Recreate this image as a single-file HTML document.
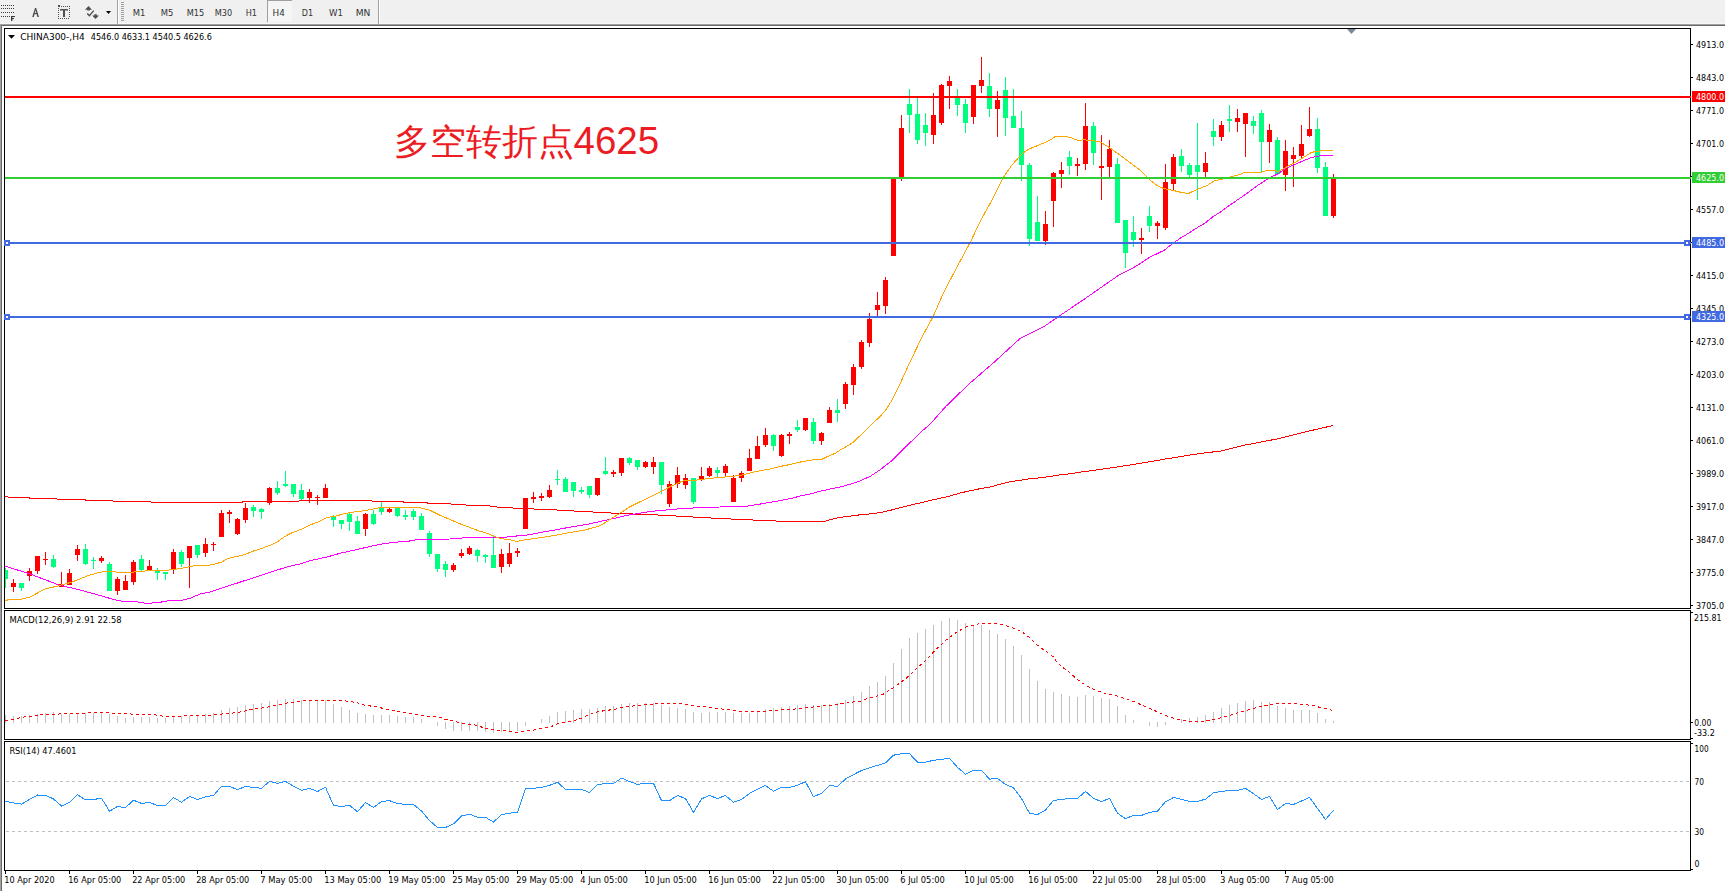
<!DOCTYPE html>
<html><head><meta charset="utf-8"><title>CHINA300 H4</title>
<style>
html,body{margin:0;padding:0;background:#fff;width:1725px;height:891px;overflow:hidden}
svg{display:block}
svg text{font-family:"DejaVu Sans", "Liberation Sans", sans-serif}
</style></head><body>
<svg width="1725" height="891" viewBox="0 0 1725 891">
<defs><clipPath id="cmain"><rect x="5" y="29" width="1685" height="579"/></clipPath>
<clipPath id="crsi"><rect x="5" y="742" width="1685" height="128"/></clipPath></defs>
<rect x="0" y="0" width="1725" height="891" fill="#ffffff"/><rect x="0" y="0" width="1725" height="23" fill="#f0f0f0"/><rect x="0" y="23" width="1725" height="1" fill="#f7f7f7"/><rect x="0" y="24" width="1725" height="1" fill="#a0a0a0"/><rect x="1" y="25" width="1724" height="1" fill="#696969"/><rect x="0" y="24" width="1" height="867" fill="#a0a0a0"/><rect x="1" y="25" width="1" height="866" fill="#696969"/><rect x="117" y="0" width="1" height="24" fill="#a0a0a0"/><rect x="118" y="0" width="1" height="24" fill="#ffffff"/><rect x="378" y="0" width="1" height="24" fill="#a0a0a0"/><rect x="379" y="0" width="1" height="24" fill="#ffffff"/><rect x="121" y="2" width="3" height="1" fill="#a0a0a0"/><rect x="121" y="4" width="3" height="1" fill="#a0a0a0"/><rect x="121" y="6" width="3" height="1" fill="#a0a0a0"/><rect x="121" y="8" width="3" height="1" fill="#a0a0a0"/><rect x="121" y="10" width="3" height="1" fill="#a0a0a0"/><rect x="121" y="12" width="3" height="1" fill="#a0a0a0"/><rect x="121" y="14" width="3" height="1" fill="#a0a0a0"/><rect x="121" y="16" width="3" height="1" fill="#a0a0a0"/><rect x="121" y="18" width="3" height="1" fill="#a0a0a0"/><rect x="121" y="20" width="3" height="1" fill="#a0a0a0"/><rect x="1" y="5" width="1" height="1" fill="#3c3c3c"/><rect x="3" y="5" width="1" height="1" fill="#3c3c3c"/><rect x="5" y="5" width="1" height="1" fill="#3c3c3c"/><rect x="7" y="5" width="1" height="1" fill="#3c3c3c"/><rect x="9" y="5" width="1" height="1" fill="#3c3c3c"/><rect x="11" y="5" width="1" height="1" fill="#3c3c3c"/><rect x="13" y="5" width="1" height="1" fill="#3c3c3c"/><rect x="1" y="8" width="1" height="1" fill="#3c3c3c"/><rect x="3" y="8" width="1" height="1" fill="#3c3c3c"/><rect x="5" y="8" width="1" height="1" fill="#3c3c3c"/><rect x="7" y="8" width="1" height="1" fill="#3c3c3c"/><rect x="9" y="8" width="1" height="1" fill="#3c3c3c"/><rect x="11" y="8" width="1" height="1" fill="#3c3c3c"/><rect x="13" y="8" width="1" height="1" fill="#3c3c3c"/><rect x="1" y="12" width="1" height="1" fill="#3c3c3c"/><rect x="3" y="12" width="1" height="1" fill="#3c3c3c"/><rect x="5" y="12" width="1" height="1" fill="#3c3c3c"/><rect x="7" y="12" width="1" height="1" fill="#3c3c3c"/><rect x="9" y="12" width="1" height="1" fill="#3c3c3c"/><rect x="11" y="12" width="1" height="1" fill="#3c3c3c"/><rect x="13" y="12" width="1" height="1" fill="#3c3c3c"/><rect x="1" y="16" width="1" height="1" fill="#3c3c3c"/><rect x="3" y="16" width="1" height="1" fill="#3c3c3c"/><rect x="5" y="16" width="1" height="1" fill="#3c3c3c"/><rect x="7" y="16" width="1" height="1" fill="#3c3c3c"/><rect x="9" y="16" width="1" height="1" fill="#3c3c3c"/><rect x="11" y="16" width="1" height="5" fill="#3c3c3c"/><rect x="12" y="16" width="0.4" height="5" fill="#3c3c3c"/><rect x="11" y="16" width="4" height="1" fill="#3c3c3c"/><rect x="11" y="18" width="3" height="1" fill="#3c3c3c"/><path d="M32.2 17 L35.0 8 L36.2 8 L39.0 17 L37.4 17 L35.6 10.2 L33.8 17 Z" fill="#505050"/><rect x="33.6" y="13" width="4" height="1.2" fill="#505050"/><rect x="61" y="6" width="1" height="1" fill="#505050"/><rect x="63" y="6" width="1" height="1" fill="#505050"/><rect x="65" y="6" width="1" height="1" fill="#505050"/><rect x="67" y="6" width="1" height="1" fill="#505050"/><rect x="69" y="6" width="1" height="1" fill="#505050"/><rect x="58" y="5" width="2" height="2" fill="#505050"/><rect x="58" y="8" width="1" height="1" fill="#505050"/><rect x="58" y="10" width="1" height="1" fill="#505050"/><rect x="58" y="12" width="1" height="1" fill="#505050"/><rect x="58" y="14" width="1" height="1" fill="#505050"/><rect x="58" y="16" width="1" height="1" fill="#505050"/><rect x="58" y="18" width="1" height="1" fill="#505050"/><rect x="69" y="6" width="1" height="1" fill="#505050"/><rect x="69" y="8" width="1" height="1" fill="#505050"/><rect x="69" y="10" width="1" height="1" fill="#505050"/><rect x="69" y="12" width="1" height="1" fill="#505050"/><rect x="69" y="14" width="1" height="1" fill="#505050"/><rect x="69" y="16" width="1" height="1" fill="#505050"/><rect x="60" y="18" width="1" height="1" fill="#505050"/><rect x="62" y="18" width="1" height="1" fill="#505050"/><rect x="64" y="18" width="1" height="1" fill="#505050"/><rect x="66" y="18" width="1" height="1" fill="#505050"/><rect x="68" y="18" width="1" height="1" fill="#505050"/><rect x="60" y="9" width="8" height="1.5" fill="#505050"/><rect x="63" y="10" width="2" height="7" fill="#505050"/><path d="M88.5 6 L85 9.7 L87.2 9.7 L87.2 10.6 L89.9 10.6 L89.9 9.7 L92 9.7 Z" fill="#505050"/><path d="M87.2 13.4 L89.4 15.6 L93.7 10.6" fill="none" stroke="#505050" stroke-width="1.4"/><path d="M94.3 14.2 L96.8 14.2 L96.8 15.5 L99 15.5 L95.5 19 L92.1 15.5 L94.3 15.5 Z" fill="#505050"/><path d="M106 11 L111 11 L108.5 14 Z" fill="#000"/><rect x="267" y="0" width="25" height="22" fill="#f5f5f5"/><rect x="267" y="0" width="25" height="1" fill="#a0a0a0"/><rect x="267" y="0" width="1" height="22" fill="#a0a0a0"/><text x="132.7" y="16" font-size="9.2" textLength="12.6" lengthAdjust="spacingAndGlyphs" fill="#333">M1</text><text x="160.7" y="16" font-size="9.2" textLength="12.6" lengthAdjust="spacingAndGlyphs" fill="#333">M5</text><text x="186.7" y="16" font-size="9.2" textLength="17.5" lengthAdjust="spacingAndGlyphs" fill="#333">M15</text><text x="214.7" y="16" font-size="9.2" textLength="17.5" lengthAdjust="spacingAndGlyphs" fill="#333">M30</text><text x="245.7" y="16" font-size="9.2" textLength="11.3" lengthAdjust="spacingAndGlyphs" fill="#333">H1</text><text x="272.6" y="16" font-size="9.2" textLength="12.2" lengthAdjust="spacingAndGlyphs" fill="#333">H4</text><text x="301.7" y="16" font-size="9.2" textLength="11.3" lengthAdjust="spacingAndGlyphs" fill="#333">D1</text><text x="329" y="16" font-size="9.2" textLength="14" lengthAdjust="spacingAndGlyphs" fill="#333">W1</text><text x="355.7" y="16" font-size="9.2" textLength="14.7" lengthAdjust="spacingAndGlyphs" fill="#333">MN</text><g shape-rendering="crispEdges"><rect x="5" y="568" width="1" height="20" fill="#00ff7f"/><rect x="5" y="570" width="3" height="9" fill="#00ff7f"/><rect x="13" y="579" width="1" height="13" fill="#ff0000"/><rect x="11" y="583" width="5" height="4" fill="#ff0000"/><rect x="21" y="583" width="1" height="8" fill="#00ff7f"/><rect x="19" y="583" width="5" height="5" fill="#00ff7f"/><rect x="29" y="568" width="1" height="13" fill="#ff0000"/><rect x="27" y="571" width="5" height="5" fill="#ff0000"/><rect x="37" y="556" width="1" height="18" fill="#ff0000"/><rect x="35" y="556" width="5" height="15" fill="#ff0000"/><rect x="45" y="552" width="1" height="13" fill="#ff0000"/><rect x="43" y="559" width="5" height="1" fill="#ff0000"/><rect x="53" y="555" width="1" height="13" fill="#00ff7f"/><rect x="51" y="559" width="5" height="8" fill="#00ff7f"/><rect x="61" y="572" width="1" height="15" fill="#ff0000"/><rect x="59" y="584" width="5" height="3" fill="#ff0000"/><rect x="69" y="569" width="1" height="16" fill="#ff0000"/><rect x="67" y="573" width="5" height="12" fill="#ff0000"/><rect x="77" y="545" width="1" height="16" fill="#ff0000"/><rect x="75" y="549" width="5" height="6" fill="#ff0000"/><rect x="85" y="544" width="1" height="21" fill="#00ff7f"/><rect x="83" y="549" width="5" height="15" fill="#00ff7f"/><rect x="93" y="557" width="1" height="12" fill="#00ff7f"/><rect x="91" y="560" width="5" height="1" fill="#00ff7f"/><rect x="101" y="556" width="1" height="7" fill="#ff0000"/><rect x="99" y="558" width="5" height="3" fill="#ff0000"/><rect x="109" y="562" width="1" height="29" fill="#00ff7f"/><rect x="107" y="564" width="5" height="27" fill="#00ff7f"/><rect x="117" y="577" width="1" height="18" fill="#ff0000"/><rect x="115" y="579" width="5" height="12" fill="#ff0000"/><rect x="125" y="575" width="1" height="15" fill="#ff0000"/><rect x="123" y="581" width="5" height="9" fill="#ff0000"/><rect x="133" y="560" width="1" height="25" fill="#ff0000"/><rect x="131" y="562" width="5" height="20" fill="#ff0000"/><rect x="141" y="555" width="1" height="17" fill="#00ff7f"/><rect x="139" y="559" width="5" height="11" fill="#00ff7f"/><rect x="149" y="560" width="1" height="10" fill="#ff0000"/><rect x="147" y="566" width="5" height="4" fill="#ff0000"/><rect x="157" y="568" width="1" height="12" fill="#00ff7f"/><rect x="155" y="571" width="5" height="2" fill="#00ff7f"/><rect x="165" y="572" width="1" height="8" fill="#00ff7f"/><rect x="163" y="572" width="5" height="2" fill="#00ff7f"/><rect x="173" y="549" width="1" height="25" fill="#ff0000"/><rect x="171" y="552" width="5" height="18" fill="#ff0000"/><rect x="181" y="550" width="1" height="17" fill="#00ff7f"/><rect x="179" y="552" width="5" height="12" fill="#00ff7f"/><rect x="189" y="546" width="1" height="42" fill="#ff0000"/><rect x="187" y="546" width="5" height="12" fill="#ff0000"/><rect x="197" y="545" width="1" height="13" fill="#00ff7f"/><rect x="195" y="545" width="5" height="10" fill="#00ff7f"/><rect x="205" y="538" width="1" height="19" fill="#ff0000"/><rect x="203" y="544" width="5" height="9" fill="#ff0000"/><rect x="213" y="542" width="1" height="9" fill="#ff0000"/><rect x="211" y="544" width="5" height="1" fill="#ff0000"/><rect x="221" y="510" width="1" height="27" fill="#ff0000"/><rect x="219" y="513" width="5" height="24" fill="#ff0000"/><rect x="229" y="510" width="1" height="13" fill="#ff0000"/><rect x="227" y="512" width="5" height="2" fill="#ff0000"/><rect x="237" y="518" width="1" height="17" fill="#ff0000"/><rect x="235" y="519" width="5" height="15" fill="#ff0000"/><rect x="245" y="503" width="1" height="20" fill="#ff0000"/><rect x="243" y="508" width="5" height="12" fill="#ff0000"/><rect x="253" y="505" width="1" height="12" fill="#00ff7f"/><rect x="251" y="507" width="5" height="4" fill="#00ff7f"/><rect x="261" y="508" width="1" height="11" fill="#00ff7f"/><rect x="259" y="509" width="5" height="3" fill="#00ff7f"/><rect x="269" y="487" width="1" height="18" fill="#ff0000"/><rect x="267" y="488" width="5" height="15" fill="#ff0000"/><rect x="277" y="481" width="1" height="14" fill="#00ff7f"/><rect x="275" y="488" width="5" height="5" fill="#00ff7f"/><rect x="285" y="471" width="1" height="16" fill="#00ff7f"/><rect x="283" y="484" width="5" height="2" fill="#00ff7f"/><rect x="293" y="484" width="1" height="13" fill="#00ff7f"/><rect x="291" y="484" width="5" height="10" fill="#00ff7f"/><rect x="301" y="484" width="1" height="16" fill="#00ff7f"/><rect x="299" y="490" width="5" height="9" fill="#00ff7f"/><rect x="309" y="489" width="1" height="14" fill="#ff0000"/><rect x="307" y="492" width="5" height="6" fill="#ff0000"/><rect x="317" y="495" width="1" height="10" fill="#ff0000"/><rect x="315" y="497" width="5" height="1" fill="#ff0000"/><rect x="325" y="484" width="1" height="14" fill="#ff0000"/><rect x="323" y="488" width="5" height="10" fill="#ff0000"/><rect x="333" y="515" width="1" height="12" fill="#00ff7f"/><rect x="331" y="516" width="5" height="4" fill="#00ff7f"/><rect x="341" y="520" width="1" height="9" fill="#00ff7f"/><rect x="339" y="520" width="5" height="4" fill="#00ff7f"/><rect x="349" y="513" width="1" height="18" fill="#00ff7f"/><rect x="347" y="514" width="5" height="8" fill="#00ff7f"/><rect x="357" y="516" width="1" height="18" fill="#00ff7f"/><rect x="355" y="521" width="5" height="13" fill="#00ff7f"/><rect x="365" y="513" width="1" height="23" fill="#ff0000"/><rect x="363" y="514" width="5" height="15" fill="#ff0000"/><rect x="373" y="510" width="1" height="15" fill="#00ff7f"/><rect x="371" y="514" width="5" height="10" fill="#00ff7f"/><rect x="381" y="502" width="1" height="13" fill="#00ff7f"/><rect x="379" y="508" width="5" height="4" fill="#00ff7f"/><rect x="389" y="508" width="1" height="5" fill="#ff0000"/><rect x="387" y="509" width="5" height="3" fill="#ff0000"/><rect x="397" y="508" width="1" height="9" fill="#00ff7f"/><rect x="395" y="508" width="5" height="8" fill="#00ff7f"/><rect x="405" y="510" width="1" height="10" fill="#00ff7f"/><rect x="403" y="515" width="5" height="2" fill="#00ff7f"/><rect x="413" y="509" width="1" height="11" fill="#00ff7f"/><rect x="411" y="511" width="5" height="6" fill="#00ff7f"/><rect x="421" y="513" width="1" height="17" fill="#00ff7f"/><rect x="419" y="516" width="5" height="14" fill="#00ff7f"/><rect x="429" y="531" width="1" height="26" fill="#00ff7f"/><rect x="427" y="533" width="5" height="21" fill="#00ff7f"/><rect x="437" y="554" width="1" height="18" fill="#00ff7f"/><rect x="435" y="554" width="5" height="15" fill="#00ff7f"/><rect x="445" y="561" width="1" height="16" fill="#00ff7f"/><rect x="443" y="564" width="5" height="6" fill="#00ff7f"/><rect x="453" y="563" width="1" height="9" fill="#ff0000"/><rect x="451" y="565" width="5" height="5" fill="#ff0000"/><rect x="461" y="549" width="1" height="9" fill="#ff0000"/><rect x="459" y="553" width="5" height="3" fill="#ff0000"/><rect x="469" y="546" width="1" height="9" fill="#ff0000"/><rect x="467" y="548" width="5" height="6" fill="#ff0000"/><rect x="477" y="549" width="1" height="13" fill="#00ff7f"/><rect x="475" y="550" width="5" height="6" fill="#00ff7f"/><rect x="485" y="554" width="1" height="9" fill="#00ff7f"/><rect x="483" y="555" width="5" height="2" fill="#00ff7f"/><rect x="493" y="535" width="1" height="33" fill="#00ff7f"/><rect x="491" y="555" width="5" height="13" fill="#00ff7f"/><rect x="501" y="549" width="1" height="24" fill="#ff0000"/><rect x="499" y="554" width="5" height="13" fill="#ff0000"/><rect x="509" y="543" width="1" height="24" fill="#ff0000"/><rect x="507" y="553" width="5" height="11" fill="#ff0000"/><rect x="517" y="548" width="1" height="9" fill="#ff0000"/><rect x="515" y="551" width="5" height="2" fill="#ff0000"/><rect x="525" y="498" width="1" height="31" fill="#ff0000"/><rect x="523" y="498" width="5" height="31" fill="#ff0000"/><rect x="533" y="492" width="1" height="11" fill="#ff0000"/><rect x="531" y="497" width="5" height="2" fill="#ff0000"/><rect x="541" y="493" width="1" height="8" fill="#ff0000"/><rect x="539" y="496" width="5" height="2" fill="#ff0000"/><rect x="549" y="485" width="1" height="13" fill="#ff0000"/><rect x="547" y="490" width="5" height="7" fill="#ff0000"/><rect x="557" y="470" width="1" height="15" fill="#00ff7f"/><rect x="555" y="479" width="5" height="1" fill="#00ff7f"/><rect x="565" y="477" width="1" height="15" fill="#00ff7f"/><rect x="563" y="479" width="5" height="13" fill="#00ff7f"/><rect x="573" y="482" width="1" height="15" fill="#00ff7f"/><rect x="571" y="482" width="5" height="9" fill="#00ff7f"/><rect x="581" y="487" width="1" height="7" fill="#00ff7f"/><rect x="579" y="490" width="5" height="2" fill="#00ff7f"/><rect x="589" y="486" width="1" height="12" fill="#00ff7f"/><rect x="587" y="486" width="5" height="9" fill="#00ff7f"/><rect x="597" y="478" width="1" height="18" fill="#ff0000"/><rect x="595" y="478" width="5" height="17" fill="#ff0000"/><rect x="605" y="457" width="1" height="18" fill="#00ff7f"/><rect x="603" y="471" width="5" height="3" fill="#00ff7f"/><rect x="613" y="470" width="1" height="7" fill="#ff0000"/><rect x="611" y="472" width="5" height="2" fill="#ff0000"/><rect x="621" y="458" width="1" height="18" fill="#ff0000"/><rect x="619" y="458" width="5" height="15" fill="#ff0000"/><rect x="629" y="457" width="1" height="8" fill="#00ff7f"/><rect x="627" y="458" width="5" height="5" fill="#00ff7f"/><rect x="637" y="460" width="1" height="10" fill="#00ff7f"/><rect x="635" y="460" width="5" height="7" fill="#00ff7f"/><rect x="645" y="461" width="1" height="7" fill="#ff0000"/><rect x="643" y="462" width="5" height="5" fill="#ff0000"/><rect x="653" y="457" width="1" height="17" fill="#ff0000"/><rect x="651" y="462" width="5" height="5" fill="#ff0000"/><rect x="661" y="462" width="1" height="32" fill="#00ff7f"/><rect x="659" y="462" width="5" height="23" fill="#00ff7f"/><rect x="669" y="481" width="1" height="26" fill="#ff0000"/><rect x="667" y="484" width="5" height="20" fill="#ff0000"/><rect x="677" y="467" width="1" height="21" fill="#ff0000"/><rect x="675" y="475" width="5" height="9" fill="#ff0000"/><rect x="685" y="474" width="1" height="15" fill="#ff0000"/><rect x="683" y="478" width="5" height="7" fill="#ff0000"/><rect x="693" y="478" width="1" height="26" fill="#00ff7f"/><rect x="691" y="478" width="5" height="24" fill="#00ff7f"/><rect x="701" y="467" width="1" height="14" fill="#ff0000"/><rect x="699" y="476" width="5" height="3" fill="#ff0000"/><rect x="709" y="466" width="1" height="11" fill="#ff0000"/><rect x="707" y="468" width="5" height="8" fill="#ff0000"/><rect x="717" y="467" width="1" height="11" fill="#00ff7f"/><rect x="715" y="470" width="5" height="3" fill="#00ff7f"/><rect x="725" y="464" width="1" height="12" fill="#ff0000"/><rect x="723" y="466" width="5" height="7" fill="#ff0000"/><rect x="733" y="475" width="1" height="27" fill="#ff0000"/><rect x="731" y="478" width="5" height="24" fill="#ff0000"/><rect x="741" y="471" width="1" height="11" fill="#ff0000"/><rect x="739" y="473" width="5" height="5" fill="#ff0000"/><rect x="749" y="449" width="1" height="22" fill="#ff0000"/><rect x="747" y="458" width="5" height="13" fill="#ff0000"/><rect x="757" y="436" width="1" height="23" fill="#ff0000"/><rect x="755" y="446" width="5" height="13" fill="#ff0000"/><rect x="765" y="428" width="1" height="19" fill="#ff0000"/><rect x="763" y="435" width="5" height="10" fill="#ff0000"/><rect x="773" y="434" width="1" height="17" fill="#00ff7f"/><rect x="771" y="435" width="5" height="11" fill="#00ff7f"/><rect x="781" y="434" width="1" height="23" fill="#ff0000"/><rect x="779" y="435" width="5" height="21" fill="#ff0000"/><rect x="789" y="432" width="1" height="12" fill="#ff0000"/><rect x="787" y="434" width="5" height="2" fill="#ff0000"/><rect x="797" y="420" width="1" height="12" fill="#00ff7f"/><rect x="795" y="427" width="5" height="3" fill="#00ff7f"/><rect x="805" y="418" width="1" height="13" fill="#ff0000"/><rect x="803" y="418" width="5" height="12" fill="#ff0000"/><rect x="813" y="418" width="1" height="26" fill="#00ff7f"/><rect x="811" y="422" width="5" height="19" fill="#00ff7f"/><rect x="821" y="432" width="1" height="13" fill="#ff0000"/><rect x="819" y="433" width="5" height="8" fill="#ff0000"/><rect x="829" y="407" width="1" height="16" fill="#ff0000"/><rect x="827" y="410" width="5" height="13" fill="#ff0000"/><rect x="837" y="399" width="1" height="23" fill="#00ff7f"/><rect x="835" y="410" width="5" height="3" fill="#00ff7f"/><rect x="845" y="382" width="1" height="27" fill="#ff0000"/><rect x="843" y="384" width="5" height="20" fill="#ff0000"/><rect x="853" y="364" width="1" height="31" fill="#ff0000"/><rect x="851" y="367" width="5" height="18" fill="#ff0000"/><rect x="861" y="340" width="1" height="29" fill="#ff0000"/><rect x="859" y="342" width="5" height="25" fill="#ff0000"/><rect x="869" y="313" width="1" height="34" fill="#ff0000"/><rect x="867" y="319" width="5" height="24" fill="#ff0000"/><rect x="877" y="292" width="1" height="24" fill="#ff0000"/><rect x="875" y="305" width="5" height="5" fill="#ff0000"/><rect x="885" y="277" width="1" height="37" fill="#ff0000"/><rect x="883" y="280" width="5" height="26" fill="#ff0000"/><rect x="893" y="179" width="1" height="77" fill="#ff0000"/><rect x="891" y="179" width="5" height="77" fill="#ff0000"/><rect x="901" y="115" width="1" height="66" fill="#ff0000"/><rect x="899" y="128" width="5" height="49" fill="#ff0000"/><rect x="909" y="89" width="1" height="44" fill="#00ff7f"/><rect x="907" y="104" width="5" height="11" fill="#00ff7f"/><rect x="917" y="98" width="1" height="46" fill="#00ff7f"/><rect x="915" y="114" width="5" height="26" fill="#00ff7f"/><rect x="925" y="113" width="1" height="33" fill="#00ff7f"/><rect x="923" y="125" width="5" height="8" fill="#00ff7f"/><rect x="933" y="93" width="1" height="51" fill="#ff0000"/><rect x="931" y="115" width="5" height="20" fill="#ff0000"/><rect x="941" y="84" width="1" height="41" fill="#ff0000"/><rect x="939" y="85" width="5" height="38" fill="#ff0000"/><rect x="949" y="76" width="1" height="33" fill="#ff0000"/><rect x="947" y="81" width="5" height="5" fill="#ff0000"/><rect x="957" y="89" width="1" height="27" fill="#00ff7f"/><rect x="955" y="98" width="5" height="7" fill="#00ff7f"/><rect x="965" y="99" width="1" height="34" fill="#00ff7f"/><rect x="963" y="104" width="5" height="19" fill="#00ff7f"/><rect x="973" y="85" width="1" height="39" fill="#ff0000"/><rect x="971" y="85" width="5" height="32" fill="#ff0000"/><rect x="981" y="57" width="1" height="36" fill="#ff0000"/><rect x="979" y="80" width="5" height="6" fill="#ff0000"/><rect x="989" y="73" width="1" height="44" fill="#00ff7f"/><rect x="987" y="86" width="5" height="23" fill="#00ff7f"/><rect x="997" y="91" width="1" height="46" fill="#ff0000"/><rect x="995" y="100" width="5" height="9" fill="#ff0000"/><rect x="1005" y="77" width="1" height="59" fill="#00ff7f"/><rect x="1003" y="90" width="5" height="28" fill="#00ff7f"/><rect x="1013" y="89" width="1" height="39" fill="#00ff7f"/><rect x="1011" y="116" width="5" height="12" fill="#00ff7f"/><rect x="1021" y="111" width="1" height="70" fill="#00ff7f"/><rect x="1019" y="128" width="5" height="37" fill="#00ff7f"/><rect x="1029" y="163" width="1" height="83" fill="#00ff7f"/><rect x="1027" y="165" width="5" height="74" fill="#00ff7f"/><rect x="1037" y="196" width="1" height="45" fill="#00ff7f"/><rect x="1035" y="222" width="5" height="19" fill="#00ff7f"/><rect x="1045" y="211" width="1" height="34" fill="#ff0000"/><rect x="1043" y="224" width="5" height="17" fill="#ff0000"/><rect x="1053" y="172" width="1" height="55" fill="#ff0000"/><rect x="1051" y="173" width="5" height="28" fill="#ff0000"/><rect x="1061" y="162" width="1" height="26" fill="#ff0000"/><rect x="1059" y="170" width="5" height="4" fill="#ff0000"/><rect x="1069" y="151" width="1" height="24" fill="#00ff7f"/><rect x="1067" y="157" width="5" height="9" fill="#00ff7f"/><rect x="1077" y="158" width="1" height="18" fill="#ff0000"/><rect x="1075" y="164" width="5" height="2" fill="#ff0000"/><rect x="1085" y="103" width="1" height="67" fill="#ff0000"/><rect x="1083" y="126" width="5" height="38" fill="#ff0000"/><rect x="1093" y="122" width="1" height="43" fill="#00ff7f"/><rect x="1091" y="126" width="5" height="27" fill="#00ff7f"/><rect x="1101" y="135" width="1" height="65" fill="#ff0000"/><rect x="1099" y="166" width="5" height="2" fill="#ff0000"/><rect x="1109" y="140" width="1" height="37" fill="#ff0000"/><rect x="1107" y="149" width="5" height="18" fill="#ff0000"/><rect x="1117" y="158" width="1" height="65" fill="#00ff7f"/><rect x="1115" y="164" width="5" height="59" fill="#00ff7f"/><rect x="1125" y="220" width="1" height="48" fill="#00ff7f"/><rect x="1123" y="220" width="5" height="33" fill="#00ff7f"/><rect x="1133" y="216" width="1" height="31" fill="#00ff7f"/><rect x="1131" y="232" width="5" height="8" fill="#00ff7f"/><rect x="1141" y="228" width="1" height="26" fill="#ff0000"/><rect x="1139" y="238" width="5" height="2" fill="#ff0000"/><rect x="1149" y="206" width="1" height="26" fill="#00ff7f"/><rect x="1147" y="216" width="5" height="10" fill="#00ff7f"/><rect x="1157" y="221" width="1" height="18" fill="#ff0000"/><rect x="1155" y="223" width="5" height="3" fill="#ff0000"/><rect x="1165" y="164" width="1" height="66" fill="#ff0000"/><rect x="1163" y="182" width="5" height="46" fill="#ff0000"/><rect x="1173" y="154" width="1" height="36" fill="#ff0000"/><rect x="1171" y="157" width="5" height="27" fill="#ff0000"/><rect x="1181" y="149" width="1" height="23" fill="#00ff7f"/><rect x="1179" y="156" width="5" height="10" fill="#00ff7f"/><rect x="1189" y="163" width="1" height="14" fill="#00ff7f"/><rect x="1187" y="165" width="5" height="10" fill="#00ff7f"/><rect x="1197" y="123" width="1" height="77" fill="#00ff7f"/><rect x="1195" y="165" width="5" height="7" fill="#00ff7f"/><rect x="1205" y="152" width="1" height="25" fill="#ff0000"/><rect x="1203" y="163" width="5" height="9" fill="#ff0000"/><rect x="1213" y="119" width="1" height="27" fill="#00ff7f"/><rect x="1211" y="131" width="5" height="6" fill="#00ff7f"/><rect x="1221" y="121" width="1" height="20" fill="#ff0000"/><rect x="1219" y="125" width="5" height="12" fill="#ff0000"/><rect x="1229" y="105" width="1" height="27" fill="#00ff7f"/><rect x="1227" y="119" width="5" height="2" fill="#00ff7f"/><rect x="1237" y="109" width="1" height="23" fill="#ff0000"/><rect x="1235" y="118" width="5" height="4" fill="#ff0000"/><rect x="1245" y="113" width="1" height="44" fill="#ff0000"/><rect x="1243" y="113" width="5" height="11" fill="#ff0000"/><rect x="1253" y="116" width="1" height="18" fill="#00ff7f"/><rect x="1251" y="121" width="5" height="5" fill="#00ff7f"/><rect x="1261" y="110" width="1" height="62" fill="#00ff7f"/><rect x="1259" y="113" width="5" height="29" fill="#00ff7f"/><rect x="1269" y="124" width="1" height="39" fill="#ff0000"/><rect x="1267" y="130" width="5" height="12" fill="#ff0000"/><rect x="1277" y="137" width="1" height="37" fill="#00ff7f"/><rect x="1275" y="140" width="5" height="34" fill="#00ff7f"/><rect x="1285" y="140" width="1" height="51" fill="#ff0000"/><rect x="1283" y="151" width="5" height="24" fill="#ff0000"/><rect x="1293" y="147" width="1" height="40" fill="#ff0000"/><rect x="1291" y="155" width="5" height="4" fill="#ff0000"/><rect x="1301" y="125" width="1" height="33" fill="#ff0000"/><rect x="1299" y="144" width="5" height="12" fill="#ff0000"/><rect x="1309" y="107" width="1" height="30" fill="#ff0000"/><rect x="1307" y="129" width="5" height="7" fill="#ff0000"/><rect x="1317" y="118" width="1" height="55" fill="#00ff7f"/><rect x="1315" y="129" width="5" height="39" fill="#00ff7f"/><rect x="1325" y="162" width="1" height="54" fill="#00ff7f"/><rect x="1323" y="167" width="5" height="49" fill="#00ff7f"/><rect x="1333" y="174" width="1" height="44" fill="#ff0000"/><rect x="1331" y="179" width="5" height="37" fill="#ff0000"/></g><g clip-path="url(#cmain)"><polyline points="5.0,496.5 10.0,497.4 42.0,498.4 66.0,499.4 98.0,500.4 122.0,501.4 170.0,502.4 241.0,502.3 245.0,501.5 297.0,501.5 300.0,500.6 370.0,500.6 375.0,501.5 402.0,501.5 405.0,502.5 425.0,502.5 430.0,503.5 450.0,503.8 455.0,504.7 466.0,505.0 470.0,505.7 490.0,506.0 500.0,507.4 523.0,508.5 540.0,509.3 554.0,509.8 570.0,510.8 586.0,511.6 600.0,512.4 620.0,513.5 645.0,514.5 665.0,515.3 680.0,516.3 698.0,517.3 718.0,518.4 738.0,519.3 760.0,520.3 780.0,521.2 825.0,521.2 830.0,519.7 840.0,517.4 850.0,516.2 860.0,514.8 870.0,513.9 880.0,512.7 890.0,510.4 900.0,507.8 910.0,505.2 920.0,503.0 930.0,500.5 940.0,498.3 950.0,496.0 960.0,493.0 970.0,490.8 980.0,488.7 990.0,487.0 1000.0,484.3 1010.0,481.7 1020.0,480.3 1030.0,478.6 1040.0,477.9 1050.0,476.5 1060.0,474.8 1070.0,473.8 1080.0,472.2 1102.0,469.2 1134.0,464.4 1166.0,458.9 1198.0,453.8 1221.5,450.9 1245.4,445.0 1277.3,438.9 1309.2,431.0 1333.0,425.5" fill="none" stroke="#ff0000" stroke-width="1" shape-rendering="crispEdges"/><polyline points="5.0,566.0 30.0,574.0 59.0,585.0 80.0,590.0 100.0,595.5 113.0,599.3 122.0,601.3 137.0,601.8 146.0,603.3 152.0,603.0 160.0,602.3 168.0,600.8 182.0,600.3 190.0,598.3 200.0,594.0 209.0,592.2 236.0,583.5 263.0,574.6 275.0,570.6 290.0,566.2 300.0,564.0 310.0,560.7 327.0,557.0 340.0,553.3 355.0,550.0 370.0,546.5 385.0,543.4 400.0,541.8 409.0,541.1 417.0,539.6 450.0,539.0 465.0,537.8 480.0,537.5 505.0,537.5 510.0,536.3 521.0,535.8 530.0,534.6 540.0,532.5 550.0,530.9 560.0,529.0 570.0,527.2 580.0,525.6 590.0,523.8 600.0,521.5 610.0,519.3 620.0,517.0 630.0,514.7 640.0,513.2 650.0,511.5 660.0,510.5 670.0,509.7 680.0,508.7 690.0,508.2 700.0,507.5 720.0,507.0 745.0,506.5 750.0,505.7 760.0,504.1 770.0,502.3 780.0,500.6 790.0,498.7 800.0,496.1 810.0,494.0 820.0,491.3 830.0,489.0 840.0,487.0 850.0,484.3 860.0,480.9 870.0,476.5 880.0,469.8 890.3,462.0 900.0,452.5 910.0,442.7 921.7,431.3 930.0,424.3 945.3,407.0 969.4,383.6 993.5,362.8 1019.7,338.8 1043.8,326.7 1061.3,314.7 1089.7,295.4 1113.8,278.6 1120.0,274.4 1130.0,269.7 1140.0,263.7 1150.0,257.1 1164.1,250.3 1173.2,243.2 1180.3,238.2 1188.4,233.4 1196.5,228.1 1205.1,223.0 1212.6,217.0 1220.7,211.9 1228.8,205.9 1236.9,200.3 1244.5,195.1 1249.0,191.9 1258.0,185.2 1266.9,179.4 1272.3,176.5 1278.6,173.5 1284.9,168.6 1293.9,165.0 1302.8,161.0 1311.8,157.4 1320.8,155.6 1333.0,155.6" fill="none" stroke="#ff00ff" stroke-width="1" shape-rendering="crispEdges"/><polyline points="5.0,601.0 10.0,599.0 22.0,599.0 30.0,597.0 45.0,589.0 59.0,585.7 72.0,582.0 90.0,575.0 100.0,572.3 105.0,571.5 122.0,572.3 129.0,572.3 143.0,571.5 148.0,570.3 168.0,570.2 177.0,569.0 186.0,567.5 193.0,566.0 200.0,565.2 209.0,565.2 216.0,563.8 222.0,561.9 228.0,558.5 240.0,555.7 246.0,554.1 252.0,551.4 259.0,549.6 265.0,547.1 272.0,544.6 278.0,541.3 285.0,536.4 292.0,532.7 300.0,529.8 310.0,525.0 320.0,521.2 327.0,517.5 335.0,516.2 343.0,514.1 350.0,512.5 360.0,511.3 370.0,509.7 378.0,508.0 390.0,507.3 417.0,507.4 423.0,508.4 430.0,510.2 440.0,515.2 450.0,519.5 460.0,523.8 470.0,527.5 480.0,531.3 484.0,532.3 490.0,534.5 495.0,536.5 500.0,538.3 507.0,539.5 513.0,540.3 517.0,541.5 522.0,540.3 528.0,539.4 536.0,538.3 545.0,537.0 555.0,535.4 565.0,533.3 575.0,531.7 585.0,530.0 595.0,527.2 600.0,525.6 605.0,522.8 610.0,519.5 620.0,513.2 630.0,506.7 640.0,501.8 650.0,497.1 660.0,492.0 670.0,486.7 680.0,482.2 685.0,480.4 695.0,480.4 700.0,479.6 710.0,478.4 720.0,477.3 730.0,476.7 740.0,475.4 750.0,473.0 760.0,470.7 770.0,469.0 780.0,466.5 790.0,464.5 800.0,462.1 810.0,460.3 817.0,459.4 822.0,459.3 826.0,457.2 830.0,455.5 836.0,452.9 840.0,450.2 852.6,442.8 865.9,430.2 880.8,415.6 886.3,409.3 891.1,401.5 898.1,388.1 909.1,363.8 917.0,347.5 921.0,338.8 933.1,316.6 944.2,291.3 955.4,270.1 970.5,241.8 980.6,220.6 990.7,202.4 1002.8,178.2 1011.9,165.0 1017.0,159.5 1020.0,155.9 1025.0,151.5 1030.0,148.6 1040.0,144.6 1050.0,140.2 1055.0,136.7 1065.0,136.4 1070.0,137.3 1075.0,139.3 1078.0,140.6 1083.0,139.9 1090.0,140.2 1100.0,141.9 1110.0,147.9 1120.0,155.2 1130.0,162.7 1140.0,170.2 1150.0,180.1 1158.1,186.2 1164.1,188.7 1172.2,190.2 1180.3,192.2 1188.4,193.5 1196.5,189.7 1206.6,185.7 1214.6,180.6 1222.7,179.1 1231.8,176.6 1240.0,174.4 1244.5,172.2 1261.5,172.2 1266.9,170.4 1273.2,170.4 1277.7,171.5 1281.3,170.0 1287.6,166.4 1293.9,163.2 1302.8,157.8 1311.8,152.3 1320.8,150.8 1333.0,150.5" fill="none" stroke="#ffa500" stroke-width="1" shape-rendering="crispEdges"/></g><rect x="4" y="28" width="1687" height="1" fill="#000"/><rect x="4" y="608" width="1687" height="1" fill="#000"/><rect x="4" y="28" width="1" height="581" fill="#000"/><rect x="1690" y="28" width="1" height="581" fill="#000"/><rect x="4" y="610" width="1687" height="1" fill="#000"/><rect x="4" y="739" width="1687" height="1" fill="#000"/><rect x="4" y="610" width="1" height="130" fill="#000"/><rect x="1690" y="610" width="1" height="130" fill="#000"/><rect x="4" y="741" width="1687" height="1" fill="#000"/><rect x="4" y="870" width="1687" height="1" fill="#000"/><rect x="4" y="741" width="1" height="130" fill="#000"/><rect x="1690" y="741" width="1" height="130" fill="#000"/><path d="M1347 29 L1356 29 L1351.5 34 Z" fill="#778899"/><path d="M8 35 L15 35 L11.5 38.8 Z" fill="#000"/><text x="20.3" y="40" font-size="9.2" fill="#000" textLength="64.4" lengthAdjust="spacingAndGlyphs">CHINA300-,H4</text><text x="90.8" y="40" font-size="9.2" fill="#000" textLength="121" lengthAdjust="spacingAndGlyphs">4546.0 4633.1 4540.5 4626.6</text><rect x="1691" y="44" width="2" height="1" fill="#000"/><text x="1696" y="48" font-size="9.2" fill="#000" textLength="28" lengthAdjust="spacingAndGlyphs">4913.0</text><rect x="1691" y="77" width="2" height="1" fill="#000"/><text x="1696" y="81" font-size="9.2" fill="#000" textLength="28" lengthAdjust="spacingAndGlyphs">4843.0</text><rect x="1691" y="110" width="2" height="1" fill="#000"/><text x="1696" y="114" font-size="9.2" fill="#000" textLength="28" lengthAdjust="spacingAndGlyphs">4771.0</text><rect x="1691" y="143" width="2" height="1" fill="#000"/><text x="1696" y="147" font-size="9.2" fill="#000" textLength="28" lengthAdjust="spacingAndGlyphs">4701.0</text><rect x="1691" y="176" width="2" height="1" fill="#000"/><rect x="1691" y="209" width="2" height="1" fill="#000"/><text x="1696" y="213" font-size="9.2" fill="#000" textLength="28" lengthAdjust="spacingAndGlyphs">4557.0</text><rect x="1691" y="242" width="2" height="1" fill="#000"/><rect x="1691" y="275" width="2" height="1" fill="#000"/><text x="1696" y="279" font-size="9.2" fill="#000" textLength="28" lengthAdjust="spacingAndGlyphs">4415.0</text><rect x="1691" y="308" width="2" height="1" fill="#000"/><text x="1696" y="312" font-size="9.2" fill="#000" textLength="28" lengthAdjust="spacingAndGlyphs">4345.0</text><rect x="1691" y="341" width="2" height="1" fill="#000"/><text x="1696" y="345" font-size="9.2" fill="#000" textLength="28" lengthAdjust="spacingAndGlyphs">4273.0</text><rect x="1691" y="374" width="2" height="1" fill="#000"/><text x="1696" y="378" font-size="9.2" fill="#000" textLength="28" lengthAdjust="spacingAndGlyphs">4203.0</text><rect x="1691" y="407" width="2" height="1" fill="#000"/><text x="1696" y="411" font-size="9.2" fill="#000" textLength="28" lengthAdjust="spacingAndGlyphs">4131.0</text><rect x="1691" y="440" width="2" height="1" fill="#000"/><text x="1696" y="444" font-size="9.2" fill="#000" textLength="28" lengthAdjust="spacingAndGlyphs">4061.0</text><rect x="1691" y="473" width="2" height="1" fill="#000"/><text x="1696" y="477" font-size="9.2" fill="#000" textLength="28" lengthAdjust="spacingAndGlyphs">3989.0</text><rect x="1691" y="506" width="2" height="1" fill="#000"/><text x="1696" y="510" font-size="9.2" fill="#000" textLength="28" lengthAdjust="spacingAndGlyphs">3917.0</text><rect x="1691" y="539" width="2" height="1" fill="#000"/><text x="1696" y="543" font-size="9.2" fill="#000" textLength="28" lengthAdjust="spacingAndGlyphs">3847.0</text><rect x="1691" y="572" width="2" height="1" fill="#000"/><text x="1696" y="576" font-size="9.2" fill="#000" textLength="28" lengthAdjust="spacingAndGlyphs">3775.0</text><rect x="1691" y="605" width="2" height="1" fill="#000"/><text x="1696" y="609" font-size="9.2" fill="#000" textLength="28" lengthAdjust="spacingAndGlyphs">3705.0</text><rect x="1692" y="91" width="33" height="11" fill="#ff0000"/><text x="1696" y="100" font-size="9.2" fill="#fff" textLength="28" lengthAdjust="spacingAndGlyphs">4800.0</text><rect x="1692" y="172" width="33" height="11" fill="#32cd32"/><text x="1696" y="181" font-size="9.2" fill="#fff" textLength="28" lengthAdjust="spacingAndGlyphs">4625.0</text><rect x="1692" y="237" width="33" height="11" fill="#4169e1"/><text x="1696" y="246" font-size="9.2" fill="#fff" textLength="28" lengthAdjust="spacingAndGlyphs">4485.0</text><rect x="1692" y="311" width="33" height="11" fill="#4169e1"/><text x="1696" y="320" font-size="9.2" fill="#fff" textLength="28" lengthAdjust="spacingAndGlyphs">4325.0</text><rect x="5" y="96" width="1686" height="2" fill="#ff0000"/><rect x="5" y="177" width="1686" height="2" fill="#32cd32"/><rect x="5" y="242" width="1686" height="2" fill="#4169e1"/><rect x="4" y="240" width="6" height="6" fill="#4169e1"/><rect x="6" y="242" width="2" height="2" fill="#ffffff"/><rect x="1684" y="240" width="6" height="6" fill="#4169e1"/><rect x="1686" y="242" width="2" height="2" fill="#ffffff"/><rect x="5" y="316" width="1686" height="2" fill="#4169e1"/><rect x="4" y="314" width="6" height="6" fill="#4169e1"/><rect x="6" y="316" width="2" height="2" fill="#ffffff"/><rect x="1684" y="314" width="6" height="6" fill="#4169e1"/><rect x="1686" y="316" width="2" height="2" fill="#ffffff"/><g shape-rendering="crispEdges"><rect x="5" y="715" width="1" height="8" fill="#c0c0c0"/><rect x="13" y="716" width="1" height="7" fill="#c0c0c0"/><rect x="21" y="716" width="1" height="7" fill="#c0c0c0"/><rect x="29" y="715" width="1" height="8" fill="#c0c0c0"/><rect x="37" y="714" width="1" height="9" fill="#c0c0c0"/><rect x="45" y="713" width="1" height="10" fill="#c0c0c0"/><rect x="53" y="712" width="1" height="11" fill="#c0c0c0"/><rect x="61" y="714" width="1" height="9" fill="#c0c0c0"/><rect x="69" y="714" width="1" height="9" fill="#c0c0c0"/><rect x="77" y="713" width="1" height="10" fill="#c0c0c0"/><rect x="85" y="713" width="1" height="10" fill="#c0c0c0"/><rect x="93" y="713" width="1" height="10" fill="#c0c0c0"/><rect x="101" y="713" width="1" height="10" fill="#c0c0c0"/><rect x="109" y="714" width="1" height="9" fill="#c0c0c0"/><rect x="117" y="716" width="1" height="7" fill="#c0c0c0"/><rect x="125" y="718" width="1" height="5" fill="#c0c0c0"/><rect x="133" y="717" width="1" height="6" fill="#c0c0c0"/><rect x="141" y="717" width="1" height="6" fill="#c0c0c0"/><rect x="149" y="717" width="1" height="6" fill="#c0c0c0"/><rect x="157" y="718" width="1" height="5" fill="#c0c0c0"/><rect x="165" y="718" width="1" height="5" fill="#c0c0c0"/><rect x="173" y="716" width="1" height="7" fill="#c0c0c0"/><rect x="181" y="716" width="1" height="7" fill="#c0c0c0"/><rect x="189" y="716" width="1" height="7" fill="#c0c0c0"/><rect x="197" y="715" width="1" height="8" fill="#c0c0c0"/><rect x="205" y="714" width="1" height="9" fill="#c0c0c0"/><rect x="213" y="713" width="1" height="10" fill="#c0c0c0"/><rect x="221" y="710" width="1" height="13" fill="#c0c0c0"/><rect x="229" y="708" width="1" height="15" fill="#c0c0c0"/><rect x="237" y="707" width="1" height="16" fill="#c0c0c0"/><rect x="245" y="705" width="1" height="18" fill="#c0c0c0"/><rect x="253" y="704" width="1" height="19" fill="#c0c0c0"/><rect x="261" y="703" width="1" height="20" fill="#c0c0c0"/><rect x="269" y="701" width="1" height="22" fill="#c0c0c0"/><rect x="277" y="700" width="1" height="23" fill="#c0c0c0"/><rect x="285" y="699" width="1" height="24" fill="#c0c0c0"/><rect x="293" y="699" width="1" height="24" fill="#c0c0c0"/><rect x="301" y="700" width="1" height="23" fill="#c0c0c0"/><rect x="309" y="700" width="1" height="23" fill="#c0c0c0"/><rect x="317" y="700" width="1" height="23" fill="#c0c0c0"/><rect x="325" y="700" width="1" height="23" fill="#c0c0c0"/><rect x="333" y="704" width="1" height="19" fill="#c0c0c0"/><rect x="341" y="707" width="1" height="16" fill="#c0c0c0"/><rect x="349" y="710" width="1" height="13" fill="#c0c0c0"/><rect x="357" y="713" width="1" height="10" fill="#c0c0c0"/><rect x="365" y="714" width="1" height="9" fill="#c0c0c0"/><rect x="373" y="715" width="1" height="8" fill="#c0c0c0"/><rect x="381" y="715" width="1" height="8" fill="#c0c0c0"/><rect x="389" y="715" width="1" height="8" fill="#c0c0c0"/><rect x="397" y="716" width="1" height="7" fill="#c0c0c0"/><rect x="405" y="717" width="1" height="6" fill="#c0c0c0"/><rect x="413" y="717" width="1" height="6" fill="#c0c0c0"/><rect x="421" y="719" width="1" height="4" fill="#c0c0c0"/><rect x="437" y="722" width="1" height="4" fill="#c0c0c0"/><rect x="445" y="722" width="1" height="7" fill="#c0c0c0"/><rect x="453" y="722" width="1" height="9" fill="#c0c0c0"/><rect x="461" y="722" width="1" height="9" fill="#c0c0c0"/><rect x="469" y="722" width="1" height="9" fill="#c0c0c0"/><rect x="477" y="722" width="1" height="9" fill="#c0c0c0"/><rect x="485" y="722" width="1" height="10" fill="#c0c0c0"/><rect x="493" y="722" width="1" height="11" fill="#c0c0c0"/><rect x="501" y="722" width="1" height="10" fill="#c0c0c0"/><rect x="509" y="722" width="1" height="9" fill="#c0c0c0"/><rect x="517" y="722" width="1" height="9" fill="#c0c0c0"/><rect x="525" y="722" width="1" height="4" fill="#c0c0c0"/><rect x="541" y="719" width="1" height="4" fill="#c0c0c0"/><rect x="549" y="716" width="1" height="7" fill="#c0c0c0"/><rect x="557" y="712" width="1" height="11" fill="#c0c0c0"/><rect x="565" y="711" width="1" height="12" fill="#c0c0c0"/><rect x="573" y="710" width="1" height="13" fill="#c0c0c0"/><rect x="581" y="709" width="1" height="14" fill="#c0c0c0"/><rect x="589" y="709" width="1" height="14" fill="#c0c0c0"/><rect x="597" y="708" width="1" height="15" fill="#c0c0c0"/><rect x="605" y="706" width="1" height="17" fill="#c0c0c0"/><rect x="613" y="706" width="1" height="17" fill="#c0c0c0"/><rect x="621" y="704" width="1" height="19" fill="#c0c0c0"/><rect x="629" y="703" width="1" height="20" fill="#c0c0c0"/><rect x="637" y="703" width="1" height="20" fill="#c0c0c0"/><rect x="645" y="703" width="1" height="20" fill="#c0c0c0"/><rect x="653" y="703" width="1" height="20" fill="#c0c0c0"/><rect x="661" y="705" width="1" height="18" fill="#c0c0c0"/><rect x="669" y="707" width="1" height="16" fill="#c0c0c0"/><rect x="677" y="708" width="1" height="15" fill="#c0c0c0"/><rect x="685" y="709" width="1" height="14" fill="#c0c0c0"/><rect x="693" y="712" width="1" height="11" fill="#c0c0c0"/><rect x="701" y="713" width="1" height="10" fill="#c0c0c0"/><rect x="709" y="712" width="1" height="11" fill="#c0c0c0"/><rect x="717" y="712" width="1" height="11" fill="#c0c0c0"/><rect x="725" y="712" width="1" height="11" fill="#c0c0c0"/><rect x="733" y="713" width="1" height="10" fill="#c0c0c0"/><rect x="741" y="713" width="1" height="10" fill="#c0c0c0"/><rect x="749" y="713" width="1" height="10" fill="#c0c0c0"/><rect x="757" y="712" width="1" height="11" fill="#c0c0c0"/><rect x="765" y="709" width="1" height="14" fill="#c0c0c0"/><rect x="773" y="708" width="1" height="15" fill="#c0c0c0"/><rect x="781" y="707" width="1" height="16" fill="#c0c0c0"/><rect x="789" y="706" width="1" height="17" fill="#c0c0c0"/><rect x="797" y="705" width="1" height="18" fill="#c0c0c0"/><rect x="805" y="704" width="1" height="19" fill="#c0c0c0"/><rect x="813" y="705" width="1" height="18" fill="#c0c0c0"/><rect x="821" y="705" width="1" height="18" fill="#c0c0c0"/><rect x="829" y="704" width="1" height="19" fill="#c0c0c0"/><rect x="837" y="703" width="1" height="20" fill="#c0c0c0"/><rect x="845" y="700" width="1" height="23" fill="#c0c0c0"/><rect x="853" y="696" width="1" height="27" fill="#c0c0c0"/><rect x="861" y="692" width="1" height="31" fill="#c0c0c0"/><rect x="869" y="686" width="1" height="37" fill="#c0c0c0"/><rect x="877" y="682" width="1" height="41" fill="#c0c0c0"/><rect x="885" y="676" width="1" height="47" fill="#c0c0c0"/><rect x="893" y="663" width="1" height="60" fill="#c0c0c0"/><rect x="901" y="649" width="1" height="74" fill="#c0c0c0"/><rect x="909" y="638" width="1" height="85" fill="#c0c0c0"/><rect x="917" y="633" width="1" height="90" fill="#c0c0c0"/><rect x="925" y="629" width="1" height="94" fill="#c0c0c0"/><rect x="933" y="625" width="1" height="98" fill="#c0c0c0"/><rect x="941" y="621" width="1" height="102" fill="#c0c0c0"/><rect x="949" y="618" width="1" height="105" fill="#c0c0c0"/><rect x="957" y="620" width="1" height="103" fill="#c0c0c0"/><rect x="965" y="623" width="1" height="100" fill="#c0c0c0"/><rect x="973" y="625" width="1" height="98" fill="#c0c0c0"/><rect x="981" y="625" width="1" height="98" fill="#c0c0c0"/><rect x="989" y="630" width="1" height="93" fill="#c0c0c0"/><rect x="997" y="634" width="1" height="89" fill="#c0c0c0"/><rect x="1005" y="639" width="1" height="84" fill="#c0c0c0"/><rect x="1013" y="646" width="1" height="77" fill="#c0c0c0"/><rect x="1021" y="655" width="1" height="68" fill="#c0c0c0"/><rect x="1029" y="669" width="1" height="54" fill="#c0c0c0"/><rect x="1037" y="681" width="1" height="42" fill="#c0c0c0"/><rect x="1045" y="689" width="1" height="34" fill="#c0c0c0"/><rect x="1053" y="692" width="1" height="31" fill="#c0c0c0"/><rect x="1061" y="694" width="1" height="29" fill="#c0c0c0"/><rect x="1069" y="696" width="1" height="27" fill="#c0c0c0"/><rect x="1077" y="697" width="1" height="26" fill="#c0c0c0"/><rect x="1085" y="695" width="1" height="28" fill="#c0c0c0"/><rect x="1093" y="696" width="1" height="27" fill="#c0c0c0"/><rect x="1101" y="698" width="1" height="25" fill="#c0c0c0"/><rect x="1109" y="699" width="1" height="24" fill="#c0c0c0"/><rect x="1117" y="706" width="1" height="17" fill="#c0c0c0"/><rect x="1125" y="715" width="1" height="8" fill="#c0c0c0"/><rect x="1133" y="720" width="1" height="3" fill="#c0c0c0"/><rect x="1149" y="722" width="1" height="4" fill="#c0c0c0"/><rect x="1157" y="722" width="1" height="5" fill="#c0c0c0"/><rect x="1165" y="722" width="1" height="3" fill="#c0c0c0"/><rect x="1181" y="719" width="1" height="4" fill="#c0c0c0"/><rect x="1189" y="718" width="1" height="5" fill="#c0c0c0"/><rect x="1197" y="717" width="1" height="6" fill="#c0c0c0"/><rect x="1205" y="715" width="1" height="8" fill="#c0c0c0"/><rect x="1213" y="712" width="1" height="11" fill="#c0c0c0"/><rect x="1221" y="708" width="1" height="15" fill="#c0c0c0"/><rect x="1229" y="705" width="1" height="18" fill="#c0c0c0"/><rect x="1237" y="703" width="1" height="20" fill="#c0c0c0"/><rect x="1245" y="701" width="1" height="22" fill="#c0c0c0"/><rect x="1253" y="700" width="1" height="23" fill="#c0c0c0"/><rect x="1261" y="702" width="1" height="21" fill="#c0c0c0"/><rect x="1269" y="702" width="1" height="21" fill="#c0c0c0"/><rect x="1277" y="706" width="1" height="17" fill="#c0c0c0"/><rect x="1285" y="708" width="1" height="15" fill="#c0c0c0"/><rect x="1293" y="710" width="1" height="13" fill="#c0c0c0"/><rect x="1301" y="710" width="1" height="13" fill="#c0c0c0"/><rect x="1309" y="710" width="1" height="13" fill="#c0c0c0"/><rect x="1317" y="713" width="1" height="10" fill="#c0c0c0"/><rect x="1325" y="719" width="1" height="4" fill="#c0c0c0"/><rect x="1333" y="721" width="1" height="2" fill="#c0c0c0"/></g><polyline points="5.0,720.6 13.0,719.5 18.0,718.3 24.0,717.0 30.0,716.4 36.0,715.5 43.0,714.4 55.0,714.4 66.0,713.4 84.0,713.4 90.0,712.5 108.0,712.5 115.0,713.4 127.0,713.4 133.0,714.4 152.0,714.4 160.0,715.5 164.0,716.4 210.0,715.5 217.0,714.4 230.0,713.4 240.0,712.1 247.0,710.6 252.0,709.3 260.0,708.3 268.0,707.0 277.0,705.3 283.0,704.0 288.0,702.7 295.0,702.3 303.0,701.0 310.0,700.4 340.0,700.4 350.0,701.4 357.0,702.7 363.0,704.9 380.0,707.4 385.0,709.3 398.0,711.3 410.0,713.4 420.0,715.3 427.0,716.4 440.0,717.2 445.0,719.3 452.0,720.6 458.0,722.3 468.0,724.0 477.0,725.3 482.0,727.2 490.0,729.1 500.0,730.4 510.0,731.3 517.0,732.3 525.0,731.3 532.0,730.4 540.0,728.5 550.0,727.2 557.0,724.0 565.0,722.3 575.0,720.2 583.0,717.6 590.0,714.2 597.0,711.9 605.0,710.6 615.0,709.3 622.0,707.4 630.0,706.3 640.0,705.3 650.0,704.5 660.0,703.3 675.0,703.3 685.0,704.2 690.0,705.3 700.0,706.5 710.0,707.4 715.0,708.3 725.0,709.3 735.0,710.4 740.0,711.3 760.0,711.3 775.0,710.6 785.0,709.6 800.0,708.7 810.0,707.4 820.0,706.1 830.0,705.3 838.0,704.2 845.0,703.5 850.0,702.3 860.0,701.3 866.0,699.1 875.0,696.5 883.0,694.3 893.0,688.1 900.0,683.0 906.0,678.5 915.0,670.1 925.0,661.0 935.0,650.5 945.0,641.0 955.0,633.3 965.0,627.2 972.0,625.5 980.0,623.6 1000.0,623.9 1008.0,626.2 1015.0,628.8 1022.0,632.0 1030.0,637.8 1037.0,644.9 1045.0,650.7 1053.0,656.5 1056.0,661.0 1062.0,666.9 1068.0,671.1 1074.0,676.6 1080.0,681.4 1086.0,685.6 1092.0,688.6 1098.0,691.2 1105.0,693.2 1111.0,694.5 1117.0,696.0 1123.0,697.9 1129.0,700.1 1135.0,701.8 1141.0,704.7 1147.0,707.2 1153.0,709.8 1159.0,712.6 1165.0,715.2 1171.0,717.4 1177.0,719.2 1183.0,720.5 1190.0,721.3 1205.0,721.3 1213.0,719.6 1220.0,718.0 1227.0,716.4 1234.0,713.9 1242.0,711.6 1250.0,709.4 1257.0,707.5 1264.0,706.0 1271.0,704.4 1275.0,703.4 1297.0,703.4 1302.0,704.5 1313.0,705.5 1320.0,707.4 1326.0,708.5 1333.0,710.5" fill="none" stroke="#ff0000" stroke-width="1" shape-rendering="crispEdges" stroke-dasharray="3 3"/><text x="9.6" y="623" font-size="9.2" fill="#000" textLength="112" lengthAdjust="spacingAndGlyphs">MACD(12,26,9) 2.91 22.58</text><rect x="1691" y="612" width="2" height="1" fill="#000"/><rect x="1691" y="722" width="2" height="1" fill="#000"/><rect x="1691" y="738" width="2" height="1" fill="#000"/><text x="1694" y="621" font-size="9.2" fill="#000" textLength="27.5" lengthAdjust="spacingAndGlyphs">215.81</text><text x="1694.3" y="726" font-size="9.2" fill="#000" textLength="17" lengthAdjust="spacingAndGlyphs">0.00</text><text x="1694" y="736" font-size="9.2" fill="#000" textLength="20.8" lengthAdjust="spacingAndGlyphs">-33.2</text><g shape-rendering="crispEdges"><rect x="6" y="781" width="3" height="1" fill="#c0c0c0"/><rect x="12" y="781" width="3" height="1" fill="#c0c0c0"/><rect x="18" y="781" width="3" height="1" fill="#c0c0c0"/><rect x="24" y="781" width="3" height="1" fill="#c0c0c0"/><rect x="30" y="781" width="3" height="1" fill="#c0c0c0"/><rect x="36" y="781" width="3" height="1" fill="#c0c0c0"/><rect x="42" y="781" width="3" height="1" fill="#c0c0c0"/><rect x="48" y="781" width="3" height="1" fill="#c0c0c0"/><rect x="54" y="781" width="3" height="1" fill="#c0c0c0"/><rect x="60" y="781" width="3" height="1" fill="#c0c0c0"/><rect x="66" y="781" width="3" height="1" fill="#c0c0c0"/><rect x="72" y="781" width="3" height="1" fill="#c0c0c0"/><rect x="78" y="781" width="3" height="1" fill="#c0c0c0"/><rect x="84" y="781" width="3" height="1" fill="#c0c0c0"/><rect x="90" y="781" width="3" height="1" fill="#c0c0c0"/><rect x="96" y="781" width="3" height="1" fill="#c0c0c0"/><rect x="102" y="781" width="3" height="1" fill="#c0c0c0"/><rect x="108" y="781" width="3" height="1" fill="#c0c0c0"/><rect x="114" y="781" width="3" height="1" fill="#c0c0c0"/><rect x="120" y="781" width="3" height="1" fill="#c0c0c0"/><rect x="126" y="781" width="3" height="1" fill="#c0c0c0"/><rect x="132" y="781" width="3" height="1" fill="#c0c0c0"/><rect x="138" y="781" width="3" height="1" fill="#c0c0c0"/><rect x="144" y="781" width="3" height="1" fill="#c0c0c0"/><rect x="150" y="781" width="3" height="1" fill="#c0c0c0"/><rect x="156" y="781" width="3" height="1" fill="#c0c0c0"/><rect x="162" y="781" width="3" height="1" fill="#c0c0c0"/><rect x="168" y="781" width="3" height="1" fill="#c0c0c0"/><rect x="174" y="781" width="3" height="1" fill="#c0c0c0"/><rect x="180" y="781" width="3" height="1" fill="#c0c0c0"/><rect x="186" y="781" width="3" height="1" fill="#c0c0c0"/><rect x="192" y="781" width="3" height="1" fill="#c0c0c0"/><rect x="198" y="781" width="3" height="1" fill="#c0c0c0"/><rect x="204" y="781" width="3" height="1" fill="#c0c0c0"/><rect x="210" y="781" width="3" height="1" fill="#c0c0c0"/><rect x="216" y="781" width="3" height="1" fill="#c0c0c0"/><rect x="222" y="781" width="3" height="1" fill="#c0c0c0"/><rect x="228" y="781" width="3" height="1" fill="#c0c0c0"/><rect x="234" y="781" width="3" height="1" fill="#c0c0c0"/><rect x="240" y="781" width="3" height="1" fill="#c0c0c0"/><rect x="246" y="781" width="3" height="1" fill="#c0c0c0"/><rect x="252" y="781" width="3" height="1" fill="#c0c0c0"/><rect x="258" y="781" width="3" height="1" fill="#c0c0c0"/><rect x="264" y="781" width="3" height="1" fill="#c0c0c0"/><rect x="270" y="781" width="3" height="1" fill="#c0c0c0"/><rect x="276" y="781" width="3" height="1" fill="#c0c0c0"/><rect x="282" y="781" width="3" height="1" fill="#c0c0c0"/><rect x="288" y="781" width="3" height="1" fill="#c0c0c0"/><rect x="294" y="781" width="3" height="1" fill="#c0c0c0"/><rect x="300" y="781" width="3" height="1" fill="#c0c0c0"/><rect x="306" y="781" width="3" height="1" fill="#c0c0c0"/><rect x="312" y="781" width="3" height="1" fill="#c0c0c0"/><rect x="318" y="781" width="3" height="1" fill="#c0c0c0"/><rect x="324" y="781" width="3" height="1" fill="#c0c0c0"/><rect x="330" y="781" width="3" height="1" fill="#c0c0c0"/><rect x="336" y="781" width="3" height="1" fill="#c0c0c0"/><rect x="342" y="781" width="3" height="1" fill="#c0c0c0"/><rect x="348" y="781" width="3" height="1" fill="#c0c0c0"/><rect x="354" y="781" width="3" height="1" fill="#c0c0c0"/><rect x="360" y="781" width="3" height="1" fill="#c0c0c0"/><rect x="366" y="781" width="3" height="1" fill="#c0c0c0"/><rect x="372" y="781" width="3" height="1" fill="#c0c0c0"/><rect x="378" y="781" width="3" height="1" fill="#c0c0c0"/><rect x="384" y="781" width="3" height="1" fill="#c0c0c0"/><rect x="390" y="781" width="3" height="1" fill="#c0c0c0"/><rect x="396" y="781" width="3" height="1" fill="#c0c0c0"/><rect x="402" y="781" width="3" height="1" fill="#c0c0c0"/><rect x="408" y="781" width="3" height="1" fill="#c0c0c0"/><rect x="414" y="781" width="3" height="1" fill="#c0c0c0"/><rect x="420" y="781" width="3" height="1" fill="#c0c0c0"/><rect x="426" y="781" width="3" height="1" fill="#c0c0c0"/><rect x="432" y="781" width="3" height="1" fill="#c0c0c0"/><rect x="438" y="781" width="3" height="1" fill="#c0c0c0"/><rect x="444" y="781" width="3" height="1" fill="#c0c0c0"/><rect x="450" y="781" width="3" height="1" fill="#c0c0c0"/><rect x="456" y="781" width="3" height="1" fill="#c0c0c0"/><rect x="462" y="781" width="3" height="1" fill="#c0c0c0"/><rect x="468" y="781" width="3" height="1" fill="#c0c0c0"/><rect x="474" y="781" width="3" height="1" fill="#c0c0c0"/><rect x="480" y="781" width="3" height="1" fill="#c0c0c0"/><rect x="486" y="781" width="3" height="1" fill="#c0c0c0"/><rect x="492" y="781" width="3" height="1" fill="#c0c0c0"/><rect x="498" y="781" width="3" height="1" fill="#c0c0c0"/><rect x="504" y="781" width="3" height="1" fill="#c0c0c0"/><rect x="510" y="781" width="3" height="1" fill="#c0c0c0"/><rect x="516" y="781" width="3" height="1" fill="#c0c0c0"/><rect x="522" y="781" width="3" height="1" fill="#c0c0c0"/><rect x="528" y="781" width="3" height="1" fill="#c0c0c0"/><rect x="534" y="781" width="3" height="1" fill="#c0c0c0"/><rect x="540" y="781" width="3" height="1" fill="#c0c0c0"/><rect x="546" y="781" width="3" height="1" fill="#c0c0c0"/><rect x="552" y="781" width="3" height="1" fill="#c0c0c0"/><rect x="558" y="781" width="3" height="1" fill="#c0c0c0"/><rect x="564" y="781" width="3" height="1" fill="#c0c0c0"/><rect x="570" y="781" width="3" height="1" fill="#c0c0c0"/><rect x="576" y="781" width="3" height="1" fill="#c0c0c0"/><rect x="582" y="781" width="3" height="1" fill="#c0c0c0"/><rect x="588" y="781" width="3" height="1" fill="#c0c0c0"/><rect x="594" y="781" width="3" height="1" fill="#c0c0c0"/><rect x="600" y="781" width="3" height="1" fill="#c0c0c0"/><rect x="606" y="781" width="3" height="1" fill="#c0c0c0"/><rect x="612" y="781" width="3" height="1" fill="#c0c0c0"/><rect x="618" y="781" width="3" height="1" fill="#c0c0c0"/><rect x="624" y="781" width="3" height="1" fill="#c0c0c0"/><rect x="630" y="781" width="3" height="1" fill="#c0c0c0"/><rect x="636" y="781" width="3" height="1" fill="#c0c0c0"/><rect x="642" y="781" width="3" height="1" fill="#c0c0c0"/><rect x="648" y="781" width="3" height="1" fill="#c0c0c0"/><rect x="654" y="781" width="3" height="1" fill="#c0c0c0"/><rect x="660" y="781" width="3" height="1" fill="#c0c0c0"/><rect x="666" y="781" width="3" height="1" fill="#c0c0c0"/><rect x="672" y="781" width="3" height="1" fill="#c0c0c0"/><rect x="678" y="781" width="3" height="1" fill="#c0c0c0"/><rect x="684" y="781" width="3" height="1" fill="#c0c0c0"/><rect x="690" y="781" width="3" height="1" fill="#c0c0c0"/><rect x="696" y="781" width="3" height="1" fill="#c0c0c0"/><rect x="702" y="781" width="3" height="1" fill="#c0c0c0"/><rect x="708" y="781" width="3" height="1" fill="#c0c0c0"/><rect x="714" y="781" width="3" height="1" fill="#c0c0c0"/><rect x="720" y="781" width="3" height="1" fill="#c0c0c0"/><rect x="726" y="781" width="3" height="1" fill="#c0c0c0"/><rect x="732" y="781" width="3" height="1" fill="#c0c0c0"/><rect x="738" y="781" width="3" height="1" fill="#c0c0c0"/><rect x="744" y="781" width="3" height="1" fill="#c0c0c0"/><rect x="750" y="781" width="3" height="1" fill="#c0c0c0"/><rect x="756" y="781" width="3" height="1" fill="#c0c0c0"/><rect x="762" y="781" width="3" height="1" fill="#c0c0c0"/><rect x="768" y="781" width="3" height="1" fill="#c0c0c0"/><rect x="774" y="781" width="3" height="1" fill="#c0c0c0"/><rect x="780" y="781" width="3" height="1" fill="#c0c0c0"/><rect x="786" y="781" width="3" height="1" fill="#c0c0c0"/><rect x="792" y="781" width="3" height="1" fill="#c0c0c0"/><rect x="798" y="781" width="3" height="1" fill="#c0c0c0"/><rect x="804" y="781" width="3" height="1" fill="#c0c0c0"/><rect x="810" y="781" width="3" height="1" fill="#c0c0c0"/><rect x="816" y="781" width="3" height="1" fill="#c0c0c0"/><rect x="822" y="781" width="3" height="1" fill="#c0c0c0"/><rect x="828" y="781" width="3" height="1" fill="#c0c0c0"/><rect x="834" y="781" width="3" height="1" fill="#c0c0c0"/><rect x="840" y="781" width="3" height="1" fill="#c0c0c0"/><rect x="846" y="781" width="3" height="1" fill="#c0c0c0"/><rect x="852" y="781" width="3" height="1" fill="#c0c0c0"/><rect x="858" y="781" width="3" height="1" fill="#c0c0c0"/><rect x="864" y="781" width="3" height="1" fill="#c0c0c0"/><rect x="870" y="781" width="3" height="1" fill="#c0c0c0"/><rect x="876" y="781" width="3" height="1" fill="#c0c0c0"/><rect x="882" y="781" width="3" height="1" fill="#c0c0c0"/><rect x="888" y="781" width="3" height="1" fill="#c0c0c0"/><rect x="894" y="781" width="3" height="1" fill="#c0c0c0"/><rect x="900" y="781" width="3" height="1" fill="#c0c0c0"/><rect x="906" y="781" width="3" height="1" fill="#c0c0c0"/><rect x="912" y="781" width="3" height="1" fill="#c0c0c0"/><rect x="918" y="781" width="3" height="1" fill="#c0c0c0"/><rect x="924" y="781" width="3" height="1" fill="#c0c0c0"/><rect x="930" y="781" width="3" height="1" fill="#c0c0c0"/><rect x="936" y="781" width="3" height="1" fill="#c0c0c0"/><rect x="942" y="781" width="3" height="1" fill="#c0c0c0"/><rect x="948" y="781" width="3" height="1" fill="#c0c0c0"/><rect x="954" y="781" width="3" height="1" fill="#c0c0c0"/><rect x="960" y="781" width="3" height="1" fill="#c0c0c0"/><rect x="966" y="781" width="3" height="1" fill="#c0c0c0"/><rect x="972" y="781" width="3" height="1" fill="#c0c0c0"/><rect x="978" y="781" width="3" height="1" fill="#c0c0c0"/><rect x="984" y="781" width="3" height="1" fill="#c0c0c0"/><rect x="990" y="781" width="3" height="1" fill="#c0c0c0"/><rect x="996" y="781" width="3" height="1" fill="#c0c0c0"/><rect x="1002" y="781" width="3" height="1" fill="#c0c0c0"/><rect x="1008" y="781" width="3" height="1" fill="#c0c0c0"/><rect x="1014" y="781" width="3" height="1" fill="#c0c0c0"/><rect x="1020" y="781" width="3" height="1" fill="#c0c0c0"/><rect x="1026" y="781" width="3" height="1" fill="#c0c0c0"/><rect x="1032" y="781" width="3" height="1" fill="#c0c0c0"/><rect x="1038" y="781" width="3" height="1" fill="#c0c0c0"/><rect x="1044" y="781" width="3" height="1" fill="#c0c0c0"/><rect x="1050" y="781" width="3" height="1" fill="#c0c0c0"/><rect x="1056" y="781" width="3" height="1" fill="#c0c0c0"/><rect x="1062" y="781" width="3" height="1" fill="#c0c0c0"/><rect x="1068" y="781" width="3" height="1" fill="#c0c0c0"/><rect x="1074" y="781" width="3" height="1" fill="#c0c0c0"/><rect x="1080" y="781" width="3" height="1" fill="#c0c0c0"/><rect x="1086" y="781" width="3" height="1" fill="#c0c0c0"/><rect x="1092" y="781" width="3" height="1" fill="#c0c0c0"/><rect x="1098" y="781" width="3" height="1" fill="#c0c0c0"/><rect x="1104" y="781" width="3" height="1" fill="#c0c0c0"/><rect x="1110" y="781" width="3" height="1" fill="#c0c0c0"/><rect x="1116" y="781" width="3" height="1" fill="#c0c0c0"/><rect x="1122" y="781" width="3" height="1" fill="#c0c0c0"/><rect x="1128" y="781" width="3" height="1" fill="#c0c0c0"/><rect x="1134" y="781" width="3" height="1" fill="#c0c0c0"/><rect x="1140" y="781" width="3" height="1" fill="#c0c0c0"/><rect x="1146" y="781" width="3" height="1" fill="#c0c0c0"/><rect x="1152" y="781" width="3" height="1" fill="#c0c0c0"/><rect x="1158" y="781" width="3" height="1" fill="#c0c0c0"/><rect x="1164" y="781" width="3" height="1" fill="#c0c0c0"/><rect x="1170" y="781" width="3" height="1" fill="#c0c0c0"/><rect x="1176" y="781" width="3" height="1" fill="#c0c0c0"/><rect x="1182" y="781" width="3" height="1" fill="#c0c0c0"/><rect x="1188" y="781" width="3" height="1" fill="#c0c0c0"/><rect x="1194" y="781" width="3" height="1" fill="#c0c0c0"/><rect x="1200" y="781" width="3" height="1" fill="#c0c0c0"/><rect x="1206" y="781" width="3" height="1" fill="#c0c0c0"/><rect x="1212" y="781" width="3" height="1" fill="#c0c0c0"/><rect x="1218" y="781" width="3" height="1" fill="#c0c0c0"/><rect x="1224" y="781" width="3" height="1" fill="#c0c0c0"/><rect x="1230" y="781" width="3" height="1" fill="#c0c0c0"/><rect x="1236" y="781" width="3" height="1" fill="#c0c0c0"/><rect x="1242" y="781" width="3" height="1" fill="#c0c0c0"/><rect x="1248" y="781" width="3" height="1" fill="#c0c0c0"/><rect x="1254" y="781" width="3" height="1" fill="#c0c0c0"/><rect x="1260" y="781" width="3" height="1" fill="#c0c0c0"/><rect x="1266" y="781" width="3" height="1" fill="#c0c0c0"/><rect x="1272" y="781" width="3" height="1" fill="#c0c0c0"/><rect x="1278" y="781" width="3" height="1" fill="#c0c0c0"/><rect x="1284" y="781" width="3" height="1" fill="#c0c0c0"/><rect x="1290" y="781" width="3" height="1" fill="#c0c0c0"/><rect x="1296" y="781" width="3" height="1" fill="#c0c0c0"/><rect x="1302" y="781" width="3" height="1" fill="#c0c0c0"/><rect x="1308" y="781" width="3" height="1" fill="#c0c0c0"/><rect x="1314" y="781" width="3" height="1" fill="#c0c0c0"/><rect x="1320" y="781" width="3" height="1" fill="#c0c0c0"/><rect x="1326" y="781" width="3" height="1" fill="#c0c0c0"/><rect x="1332" y="781" width="3" height="1" fill="#c0c0c0"/><rect x="1338" y="781" width="3" height="1" fill="#c0c0c0"/><rect x="1344" y="781" width="3" height="1" fill="#c0c0c0"/><rect x="1350" y="781" width="3" height="1" fill="#c0c0c0"/><rect x="1356" y="781" width="3" height="1" fill="#c0c0c0"/><rect x="1362" y="781" width="3" height="1" fill="#c0c0c0"/><rect x="1368" y="781" width="3" height="1" fill="#c0c0c0"/><rect x="1374" y="781" width="3" height="1" fill="#c0c0c0"/><rect x="1380" y="781" width="3" height="1" fill="#c0c0c0"/><rect x="1386" y="781" width="3" height="1" fill="#c0c0c0"/><rect x="1392" y="781" width="3" height="1" fill="#c0c0c0"/><rect x="1398" y="781" width="3" height="1" fill="#c0c0c0"/><rect x="1404" y="781" width="3" height="1" fill="#c0c0c0"/><rect x="1410" y="781" width="3" height="1" fill="#c0c0c0"/><rect x="1416" y="781" width="3" height="1" fill="#c0c0c0"/><rect x="1422" y="781" width="3" height="1" fill="#c0c0c0"/><rect x="1428" y="781" width="3" height="1" fill="#c0c0c0"/><rect x="1434" y="781" width="3" height="1" fill="#c0c0c0"/><rect x="1440" y="781" width="3" height="1" fill="#c0c0c0"/><rect x="1446" y="781" width="3" height="1" fill="#c0c0c0"/><rect x="1452" y="781" width="3" height="1" fill="#c0c0c0"/><rect x="1458" y="781" width="3" height="1" fill="#c0c0c0"/><rect x="1464" y="781" width="3" height="1" fill="#c0c0c0"/><rect x="1470" y="781" width="3" height="1" fill="#c0c0c0"/><rect x="1476" y="781" width="3" height="1" fill="#c0c0c0"/><rect x="1482" y="781" width="3" height="1" fill="#c0c0c0"/><rect x="1488" y="781" width="3" height="1" fill="#c0c0c0"/><rect x="1494" y="781" width="3" height="1" fill="#c0c0c0"/><rect x="1500" y="781" width="3" height="1" fill="#c0c0c0"/><rect x="1506" y="781" width="3" height="1" fill="#c0c0c0"/><rect x="1512" y="781" width="3" height="1" fill="#c0c0c0"/><rect x="1518" y="781" width="3" height="1" fill="#c0c0c0"/><rect x="1524" y="781" width="3" height="1" fill="#c0c0c0"/><rect x="1530" y="781" width="3" height="1" fill="#c0c0c0"/><rect x="1536" y="781" width="3" height="1" fill="#c0c0c0"/><rect x="1542" y="781" width="3" height="1" fill="#c0c0c0"/><rect x="1548" y="781" width="3" height="1" fill="#c0c0c0"/><rect x="1554" y="781" width="3" height="1" fill="#c0c0c0"/><rect x="1560" y="781" width="3" height="1" fill="#c0c0c0"/><rect x="1566" y="781" width="3" height="1" fill="#c0c0c0"/><rect x="1572" y="781" width="3" height="1" fill="#c0c0c0"/><rect x="1578" y="781" width="3" height="1" fill="#c0c0c0"/><rect x="1584" y="781" width="3" height="1" fill="#c0c0c0"/><rect x="1590" y="781" width="3" height="1" fill="#c0c0c0"/><rect x="1596" y="781" width="3" height="1" fill="#c0c0c0"/><rect x="1602" y="781" width="3" height="1" fill="#c0c0c0"/><rect x="1608" y="781" width="3" height="1" fill="#c0c0c0"/><rect x="1614" y="781" width="3" height="1" fill="#c0c0c0"/><rect x="1620" y="781" width="3" height="1" fill="#c0c0c0"/><rect x="1626" y="781" width="3" height="1" fill="#c0c0c0"/><rect x="1632" y="781" width="3" height="1" fill="#c0c0c0"/><rect x="1638" y="781" width="3" height="1" fill="#c0c0c0"/><rect x="1644" y="781" width="3" height="1" fill="#c0c0c0"/><rect x="1650" y="781" width="3" height="1" fill="#c0c0c0"/><rect x="1656" y="781" width="3" height="1" fill="#c0c0c0"/><rect x="1662" y="781" width="3" height="1" fill="#c0c0c0"/><rect x="1668" y="781" width="3" height="1" fill="#c0c0c0"/><rect x="1674" y="781" width="3" height="1" fill="#c0c0c0"/><rect x="1680" y="781" width="3" height="1" fill="#c0c0c0"/><rect x="1686" y="781" width="3" height="1" fill="#c0c0c0"/><rect x="6" y="831" width="3" height="1" fill="#c0c0c0"/><rect x="12" y="831" width="3" height="1" fill="#c0c0c0"/><rect x="18" y="831" width="3" height="1" fill="#c0c0c0"/><rect x="24" y="831" width="3" height="1" fill="#c0c0c0"/><rect x="30" y="831" width="3" height="1" fill="#c0c0c0"/><rect x="36" y="831" width="3" height="1" fill="#c0c0c0"/><rect x="42" y="831" width="3" height="1" fill="#c0c0c0"/><rect x="48" y="831" width="3" height="1" fill="#c0c0c0"/><rect x="54" y="831" width="3" height="1" fill="#c0c0c0"/><rect x="60" y="831" width="3" height="1" fill="#c0c0c0"/><rect x="66" y="831" width="3" height="1" fill="#c0c0c0"/><rect x="72" y="831" width="3" height="1" fill="#c0c0c0"/><rect x="78" y="831" width="3" height="1" fill="#c0c0c0"/><rect x="84" y="831" width="3" height="1" fill="#c0c0c0"/><rect x="90" y="831" width="3" height="1" fill="#c0c0c0"/><rect x="96" y="831" width="3" height="1" fill="#c0c0c0"/><rect x="102" y="831" width="3" height="1" fill="#c0c0c0"/><rect x="108" y="831" width="3" height="1" fill="#c0c0c0"/><rect x="114" y="831" width="3" height="1" fill="#c0c0c0"/><rect x="120" y="831" width="3" height="1" fill="#c0c0c0"/><rect x="126" y="831" width="3" height="1" fill="#c0c0c0"/><rect x="132" y="831" width="3" height="1" fill="#c0c0c0"/><rect x="138" y="831" width="3" height="1" fill="#c0c0c0"/><rect x="144" y="831" width="3" height="1" fill="#c0c0c0"/><rect x="150" y="831" width="3" height="1" fill="#c0c0c0"/><rect x="156" y="831" width="3" height="1" fill="#c0c0c0"/><rect x="162" y="831" width="3" height="1" fill="#c0c0c0"/><rect x="168" y="831" width="3" height="1" fill="#c0c0c0"/><rect x="174" y="831" width="3" height="1" fill="#c0c0c0"/><rect x="180" y="831" width="3" height="1" fill="#c0c0c0"/><rect x="186" y="831" width="3" height="1" fill="#c0c0c0"/><rect x="192" y="831" width="3" height="1" fill="#c0c0c0"/><rect x="198" y="831" width="3" height="1" fill="#c0c0c0"/><rect x="204" y="831" width="3" height="1" fill="#c0c0c0"/><rect x="210" y="831" width="3" height="1" fill="#c0c0c0"/><rect x="216" y="831" width="3" height="1" fill="#c0c0c0"/><rect x="222" y="831" width="3" height="1" fill="#c0c0c0"/><rect x="228" y="831" width="3" height="1" fill="#c0c0c0"/><rect x="234" y="831" width="3" height="1" fill="#c0c0c0"/><rect x="240" y="831" width="3" height="1" fill="#c0c0c0"/><rect x="246" y="831" width="3" height="1" fill="#c0c0c0"/><rect x="252" y="831" width="3" height="1" fill="#c0c0c0"/><rect x="258" y="831" width="3" height="1" fill="#c0c0c0"/><rect x="264" y="831" width="3" height="1" fill="#c0c0c0"/><rect x="270" y="831" width="3" height="1" fill="#c0c0c0"/><rect x="276" y="831" width="3" height="1" fill="#c0c0c0"/><rect x="282" y="831" width="3" height="1" fill="#c0c0c0"/><rect x="288" y="831" width="3" height="1" fill="#c0c0c0"/><rect x="294" y="831" width="3" height="1" fill="#c0c0c0"/><rect x="300" y="831" width="3" height="1" fill="#c0c0c0"/><rect x="306" y="831" width="3" height="1" fill="#c0c0c0"/><rect x="312" y="831" width="3" height="1" fill="#c0c0c0"/><rect x="318" y="831" width="3" height="1" fill="#c0c0c0"/><rect x="324" y="831" width="3" height="1" fill="#c0c0c0"/><rect x="330" y="831" width="3" height="1" fill="#c0c0c0"/><rect x="336" y="831" width="3" height="1" fill="#c0c0c0"/><rect x="342" y="831" width="3" height="1" fill="#c0c0c0"/><rect x="348" y="831" width="3" height="1" fill="#c0c0c0"/><rect x="354" y="831" width="3" height="1" fill="#c0c0c0"/><rect x="360" y="831" width="3" height="1" fill="#c0c0c0"/><rect x="366" y="831" width="3" height="1" fill="#c0c0c0"/><rect x="372" y="831" width="3" height="1" fill="#c0c0c0"/><rect x="378" y="831" width="3" height="1" fill="#c0c0c0"/><rect x="384" y="831" width="3" height="1" fill="#c0c0c0"/><rect x="390" y="831" width="3" height="1" fill="#c0c0c0"/><rect x="396" y="831" width="3" height="1" fill="#c0c0c0"/><rect x="402" y="831" width="3" height="1" fill="#c0c0c0"/><rect x="408" y="831" width="3" height="1" fill="#c0c0c0"/><rect x="414" y="831" width="3" height="1" fill="#c0c0c0"/><rect x="420" y="831" width="3" height="1" fill="#c0c0c0"/><rect x="426" y="831" width="3" height="1" fill="#c0c0c0"/><rect x="432" y="831" width="3" height="1" fill="#c0c0c0"/><rect x="438" y="831" width="3" height="1" fill="#c0c0c0"/><rect x="444" y="831" width="3" height="1" fill="#c0c0c0"/><rect x="450" y="831" width="3" height="1" fill="#c0c0c0"/><rect x="456" y="831" width="3" height="1" fill="#c0c0c0"/><rect x="462" y="831" width="3" height="1" fill="#c0c0c0"/><rect x="468" y="831" width="3" height="1" fill="#c0c0c0"/><rect x="474" y="831" width="3" height="1" fill="#c0c0c0"/><rect x="480" y="831" width="3" height="1" fill="#c0c0c0"/><rect x="486" y="831" width="3" height="1" fill="#c0c0c0"/><rect x="492" y="831" width="3" height="1" fill="#c0c0c0"/><rect x="498" y="831" width="3" height="1" fill="#c0c0c0"/><rect x="504" y="831" width="3" height="1" fill="#c0c0c0"/><rect x="510" y="831" width="3" height="1" fill="#c0c0c0"/><rect x="516" y="831" width="3" height="1" fill="#c0c0c0"/><rect x="522" y="831" width="3" height="1" fill="#c0c0c0"/><rect x="528" y="831" width="3" height="1" fill="#c0c0c0"/><rect x="534" y="831" width="3" height="1" fill="#c0c0c0"/><rect x="540" y="831" width="3" height="1" fill="#c0c0c0"/><rect x="546" y="831" width="3" height="1" fill="#c0c0c0"/><rect x="552" y="831" width="3" height="1" fill="#c0c0c0"/><rect x="558" y="831" width="3" height="1" fill="#c0c0c0"/><rect x="564" y="831" width="3" height="1" fill="#c0c0c0"/><rect x="570" y="831" width="3" height="1" fill="#c0c0c0"/><rect x="576" y="831" width="3" height="1" fill="#c0c0c0"/><rect x="582" y="831" width="3" height="1" fill="#c0c0c0"/><rect x="588" y="831" width="3" height="1" fill="#c0c0c0"/><rect x="594" y="831" width="3" height="1" fill="#c0c0c0"/><rect x="600" y="831" width="3" height="1" fill="#c0c0c0"/><rect x="606" y="831" width="3" height="1" fill="#c0c0c0"/><rect x="612" y="831" width="3" height="1" fill="#c0c0c0"/><rect x="618" y="831" width="3" height="1" fill="#c0c0c0"/><rect x="624" y="831" width="3" height="1" fill="#c0c0c0"/><rect x="630" y="831" width="3" height="1" fill="#c0c0c0"/><rect x="636" y="831" width="3" height="1" fill="#c0c0c0"/><rect x="642" y="831" width="3" height="1" fill="#c0c0c0"/><rect x="648" y="831" width="3" height="1" fill="#c0c0c0"/><rect x="654" y="831" width="3" height="1" fill="#c0c0c0"/><rect x="660" y="831" width="3" height="1" fill="#c0c0c0"/><rect x="666" y="831" width="3" height="1" fill="#c0c0c0"/><rect x="672" y="831" width="3" height="1" fill="#c0c0c0"/><rect x="678" y="831" width="3" height="1" fill="#c0c0c0"/><rect x="684" y="831" width="3" height="1" fill="#c0c0c0"/><rect x="690" y="831" width="3" height="1" fill="#c0c0c0"/><rect x="696" y="831" width="3" height="1" fill="#c0c0c0"/><rect x="702" y="831" width="3" height="1" fill="#c0c0c0"/><rect x="708" y="831" width="3" height="1" fill="#c0c0c0"/><rect x="714" y="831" width="3" height="1" fill="#c0c0c0"/><rect x="720" y="831" width="3" height="1" fill="#c0c0c0"/><rect x="726" y="831" width="3" height="1" fill="#c0c0c0"/><rect x="732" y="831" width="3" height="1" fill="#c0c0c0"/><rect x="738" y="831" width="3" height="1" fill="#c0c0c0"/><rect x="744" y="831" width="3" height="1" fill="#c0c0c0"/><rect x="750" y="831" width="3" height="1" fill="#c0c0c0"/><rect x="756" y="831" width="3" height="1" fill="#c0c0c0"/><rect x="762" y="831" width="3" height="1" fill="#c0c0c0"/><rect x="768" y="831" width="3" height="1" fill="#c0c0c0"/><rect x="774" y="831" width="3" height="1" fill="#c0c0c0"/><rect x="780" y="831" width="3" height="1" fill="#c0c0c0"/><rect x="786" y="831" width="3" height="1" fill="#c0c0c0"/><rect x="792" y="831" width="3" height="1" fill="#c0c0c0"/><rect x="798" y="831" width="3" height="1" fill="#c0c0c0"/><rect x="804" y="831" width="3" height="1" fill="#c0c0c0"/><rect x="810" y="831" width="3" height="1" fill="#c0c0c0"/><rect x="816" y="831" width="3" height="1" fill="#c0c0c0"/><rect x="822" y="831" width="3" height="1" fill="#c0c0c0"/><rect x="828" y="831" width="3" height="1" fill="#c0c0c0"/><rect x="834" y="831" width="3" height="1" fill="#c0c0c0"/><rect x="840" y="831" width="3" height="1" fill="#c0c0c0"/><rect x="846" y="831" width="3" height="1" fill="#c0c0c0"/><rect x="852" y="831" width="3" height="1" fill="#c0c0c0"/><rect x="858" y="831" width="3" height="1" fill="#c0c0c0"/><rect x="864" y="831" width="3" height="1" fill="#c0c0c0"/><rect x="870" y="831" width="3" height="1" fill="#c0c0c0"/><rect x="876" y="831" width="3" height="1" fill="#c0c0c0"/><rect x="882" y="831" width="3" height="1" fill="#c0c0c0"/><rect x="888" y="831" width="3" height="1" fill="#c0c0c0"/><rect x="894" y="831" width="3" height="1" fill="#c0c0c0"/><rect x="900" y="831" width="3" height="1" fill="#c0c0c0"/><rect x="906" y="831" width="3" height="1" fill="#c0c0c0"/><rect x="912" y="831" width="3" height="1" fill="#c0c0c0"/><rect x="918" y="831" width="3" height="1" fill="#c0c0c0"/><rect x="924" y="831" width="3" height="1" fill="#c0c0c0"/><rect x="930" y="831" width="3" height="1" fill="#c0c0c0"/><rect x="936" y="831" width="3" height="1" fill="#c0c0c0"/><rect x="942" y="831" width="3" height="1" fill="#c0c0c0"/><rect x="948" y="831" width="3" height="1" fill="#c0c0c0"/><rect x="954" y="831" width="3" height="1" fill="#c0c0c0"/><rect x="960" y="831" width="3" height="1" fill="#c0c0c0"/><rect x="966" y="831" width="3" height="1" fill="#c0c0c0"/><rect x="972" y="831" width="3" height="1" fill="#c0c0c0"/><rect x="978" y="831" width="3" height="1" fill="#c0c0c0"/><rect x="984" y="831" width="3" height="1" fill="#c0c0c0"/><rect x="990" y="831" width="3" height="1" fill="#c0c0c0"/><rect x="996" y="831" width="3" height="1" fill="#c0c0c0"/><rect x="1002" y="831" width="3" height="1" fill="#c0c0c0"/><rect x="1008" y="831" width="3" height="1" fill="#c0c0c0"/><rect x="1014" y="831" width="3" height="1" fill="#c0c0c0"/><rect x="1020" y="831" width="3" height="1" fill="#c0c0c0"/><rect x="1026" y="831" width="3" height="1" fill="#c0c0c0"/><rect x="1032" y="831" width="3" height="1" fill="#c0c0c0"/><rect x="1038" y="831" width="3" height="1" fill="#c0c0c0"/><rect x="1044" y="831" width="3" height="1" fill="#c0c0c0"/><rect x="1050" y="831" width="3" height="1" fill="#c0c0c0"/><rect x="1056" y="831" width="3" height="1" fill="#c0c0c0"/><rect x="1062" y="831" width="3" height="1" fill="#c0c0c0"/><rect x="1068" y="831" width="3" height="1" fill="#c0c0c0"/><rect x="1074" y="831" width="3" height="1" fill="#c0c0c0"/><rect x="1080" y="831" width="3" height="1" fill="#c0c0c0"/><rect x="1086" y="831" width="3" height="1" fill="#c0c0c0"/><rect x="1092" y="831" width="3" height="1" fill="#c0c0c0"/><rect x="1098" y="831" width="3" height="1" fill="#c0c0c0"/><rect x="1104" y="831" width="3" height="1" fill="#c0c0c0"/><rect x="1110" y="831" width="3" height="1" fill="#c0c0c0"/><rect x="1116" y="831" width="3" height="1" fill="#c0c0c0"/><rect x="1122" y="831" width="3" height="1" fill="#c0c0c0"/><rect x="1128" y="831" width="3" height="1" fill="#c0c0c0"/><rect x="1134" y="831" width="3" height="1" fill="#c0c0c0"/><rect x="1140" y="831" width="3" height="1" fill="#c0c0c0"/><rect x="1146" y="831" width="3" height="1" fill="#c0c0c0"/><rect x="1152" y="831" width="3" height="1" fill="#c0c0c0"/><rect x="1158" y="831" width="3" height="1" fill="#c0c0c0"/><rect x="1164" y="831" width="3" height="1" fill="#c0c0c0"/><rect x="1170" y="831" width="3" height="1" fill="#c0c0c0"/><rect x="1176" y="831" width="3" height="1" fill="#c0c0c0"/><rect x="1182" y="831" width="3" height="1" fill="#c0c0c0"/><rect x="1188" y="831" width="3" height="1" fill="#c0c0c0"/><rect x="1194" y="831" width="3" height="1" fill="#c0c0c0"/><rect x="1200" y="831" width="3" height="1" fill="#c0c0c0"/><rect x="1206" y="831" width="3" height="1" fill="#c0c0c0"/><rect x="1212" y="831" width="3" height="1" fill="#c0c0c0"/><rect x="1218" y="831" width="3" height="1" fill="#c0c0c0"/><rect x="1224" y="831" width="3" height="1" fill="#c0c0c0"/><rect x="1230" y="831" width="3" height="1" fill="#c0c0c0"/><rect x="1236" y="831" width="3" height="1" fill="#c0c0c0"/><rect x="1242" y="831" width="3" height="1" fill="#c0c0c0"/><rect x="1248" y="831" width="3" height="1" fill="#c0c0c0"/><rect x="1254" y="831" width="3" height="1" fill="#c0c0c0"/><rect x="1260" y="831" width="3" height="1" fill="#c0c0c0"/><rect x="1266" y="831" width="3" height="1" fill="#c0c0c0"/><rect x="1272" y="831" width="3" height="1" fill="#c0c0c0"/><rect x="1278" y="831" width="3" height="1" fill="#c0c0c0"/><rect x="1284" y="831" width="3" height="1" fill="#c0c0c0"/><rect x="1290" y="831" width="3" height="1" fill="#c0c0c0"/><rect x="1296" y="831" width="3" height="1" fill="#c0c0c0"/><rect x="1302" y="831" width="3" height="1" fill="#c0c0c0"/><rect x="1308" y="831" width="3" height="1" fill="#c0c0c0"/><rect x="1314" y="831" width="3" height="1" fill="#c0c0c0"/><rect x="1320" y="831" width="3" height="1" fill="#c0c0c0"/><rect x="1326" y="831" width="3" height="1" fill="#c0c0c0"/><rect x="1332" y="831" width="3" height="1" fill="#c0c0c0"/><rect x="1338" y="831" width="3" height="1" fill="#c0c0c0"/><rect x="1344" y="831" width="3" height="1" fill="#c0c0c0"/><rect x="1350" y="831" width="3" height="1" fill="#c0c0c0"/><rect x="1356" y="831" width="3" height="1" fill="#c0c0c0"/><rect x="1362" y="831" width="3" height="1" fill="#c0c0c0"/><rect x="1368" y="831" width="3" height="1" fill="#c0c0c0"/><rect x="1374" y="831" width="3" height="1" fill="#c0c0c0"/><rect x="1380" y="831" width="3" height="1" fill="#c0c0c0"/><rect x="1386" y="831" width="3" height="1" fill="#c0c0c0"/><rect x="1392" y="831" width="3" height="1" fill="#c0c0c0"/><rect x="1398" y="831" width="3" height="1" fill="#c0c0c0"/><rect x="1404" y="831" width="3" height="1" fill="#c0c0c0"/><rect x="1410" y="831" width="3" height="1" fill="#c0c0c0"/><rect x="1416" y="831" width="3" height="1" fill="#c0c0c0"/><rect x="1422" y="831" width="3" height="1" fill="#c0c0c0"/><rect x="1428" y="831" width="3" height="1" fill="#c0c0c0"/><rect x="1434" y="831" width="3" height="1" fill="#c0c0c0"/><rect x="1440" y="831" width="3" height="1" fill="#c0c0c0"/><rect x="1446" y="831" width="3" height="1" fill="#c0c0c0"/><rect x="1452" y="831" width="3" height="1" fill="#c0c0c0"/><rect x="1458" y="831" width="3" height="1" fill="#c0c0c0"/><rect x="1464" y="831" width="3" height="1" fill="#c0c0c0"/><rect x="1470" y="831" width="3" height="1" fill="#c0c0c0"/><rect x="1476" y="831" width="3" height="1" fill="#c0c0c0"/><rect x="1482" y="831" width="3" height="1" fill="#c0c0c0"/><rect x="1488" y="831" width="3" height="1" fill="#c0c0c0"/><rect x="1494" y="831" width="3" height="1" fill="#c0c0c0"/><rect x="1500" y="831" width="3" height="1" fill="#c0c0c0"/><rect x="1506" y="831" width="3" height="1" fill="#c0c0c0"/><rect x="1512" y="831" width="3" height="1" fill="#c0c0c0"/><rect x="1518" y="831" width="3" height="1" fill="#c0c0c0"/><rect x="1524" y="831" width="3" height="1" fill="#c0c0c0"/><rect x="1530" y="831" width="3" height="1" fill="#c0c0c0"/><rect x="1536" y="831" width="3" height="1" fill="#c0c0c0"/><rect x="1542" y="831" width="3" height="1" fill="#c0c0c0"/><rect x="1548" y="831" width="3" height="1" fill="#c0c0c0"/><rect x="1554" y="831" width="3" height="1" fill="#c0c0c0"/><rect x="1560" y="831" width="3" height="1" fill="#c0c0c0"/><rect x="1566" y="831" width="3" height="1" fill="#c0c0c0"/><rect x="1572" y="831" width="3" height="1" fill="#c0c0c0"/><rect x="1578" y="831" width="3" height="1" fill="#c0c0c0"/><rect x="1584" y="831" width="3" height="1" fill="#c0c0c0"/><rect x="1590" y="831" width="3" height="1" fill="#c0c0c0"/><rect x="1596" y="831" width="3" height="1" fill="#c0c0c0"/><rect x="1602" y="831" width="3" height="1" fill="#c0c0c0"/><rect x="1608" y="831" width="3" height="1" fill="#c0c0c0"/><rect x="1614" y="831" width="3" height="1" fill="#c0c0c0"/><rect x="1620" y="831" width="3" height="1" fill="#c0c0c0"/><rect x="1626" y="831" width="3" height="1" fill="#c0c0c0"/><rect x="1632" y="831" width="3" height="1" fill="#c0c0c0"/><rect x="1638" y="831" width="3" height="1" fill="#c0c0c0"/><rect x="1644" y="831" width="3" height="1" fill="#c0c0c0"/><rect x="1650" y="831" width="3" height="1" fill="#c0c0c0"/><rect x="1656" y="831" width="3" height="1" fill="#c0c0c0"/><rect x="1662" y="831" width="3" height="1" fill="#c0c0c0"/><rect x="1668" y="831" width="3" height="1" fill="#c0c0c0"/><rect x="1674" y="831" width="3" height="1" fill="#c0c0c0"/><rect x="1680" y="831" width="3" height="1" fill="#c0c0c0"/><rect x="1686" y="831" width="3" height="1" fill="#c0c0c0"/></g><g clip-path="url(#crsi)"><polyline points="5.5,801.3 13.5,803.0 21.5,804.1 29.5,799.5 37.5,795.0 45.5,795.2 53.5,799.0 61.5,806.0 69.5,802.3 77.5,794.6 85.5,800.0 93.5,799.5 101.5,798.2 109.5,811.2 117.5,806.5 125.5,807.6 133.5,800.2 141.5,803.4 149.5,802.6 157.5,805.4 165.5,805.4 173.5,797.5 181.5,802.3 189.5,796.5 197.5,799.4 205.5,796.8 213.5,795.4 221.5,786.4 229.5,786.4 237.5,789.6 245.5,786.4 253.5,787.4 261.5,788.3 269.5,781.4 277.5,783.3 285.5,781.4 293.5,786.1 301.5,790.4 309.5,788.3 317.5,791.5 325.5,787.2 333.5,805.3 341.5,806.6 349.5,805.3 357.5,811.7 365.5,802.5 373.5,807.4 381.5,801.5 389.5,800.6 397.5,803.6 405.5,804.4 413.5,804.4 421.5,811.0 429.5,820.5 437.5,827.5 445.5,827.5 453.5,823.9 461.5,816.0 469.5,814.1 477.5,817.3 485.5,817.3 493.5,822.1 501.5,814.5 509.5,813.2 517.5,812.2 525.5,788.3 533.5,788.3 541.5,787.3 549.5,785.4 557.5,782.2 565.5,789.5 573.5,789.5 581.5,789.5 589.5,792.4 597.5,784.8 605.5,783.5 613.5,783.5 621.5,778.1 629.5,781.5 637.5,784.4 645.5,783.3 653.5,783.3 661.5,800.6 669.5,800.6 677.5,795.5 685.5,798.5 693.5,812.3 701.5,798.9 709.5,795.5 717.5,798.5 725.5,795.5 733.5,802.3 741.5,799.5 749.5,793.4 757.5,789.1 765.5,785.5 773.5,791.3 781.5,787.4 789.5,787.4 797.5,785.3 805.5,781.7 813.5,796.7 821.5,793.4 829.5,785.5 837.5,786.5 845.5,779.0 853.5,774.6 861.5,770.5 869.5,767.7 877.5,765.4 885.5,762.9 893.5,755.2 901.5,753.7 909.5,753.7 917.5,762.2 925.5,762.2 933.5,760.3 941.5,759.3 949.5,758.4 957.5,767.3 965.5,774.3 973.5,770.3 981.5,770.3 989.5,779.2 997.5,778.4 1005.5,784.5 1013.5,787.7 1021.5,798.6 1029.5,813.2 1037.5,814.5 1045.5,810.1 1053.5,800.5 1061.5,799.4 1069.5,798.4 1077.5,798.4 1085.5,791.4 1093.5,798.4 1101.5,801.6 1109.5,798.4 1117.5,813.2 1125.5,818.6 1133.5,815.4 1141.5,815.4 1149.5,812.4 1157.5,811.2 1165.5,801.7 1173.5,797.5 1181.5,799.4 1189.5,801.4 1197.5,801.4 1205.5,799.2 1213.5,792.8 1221.5,791.5 1229.5,790.3 1237.5,790.3 1245.5,788.3 1253.5,793.7 1261.5,799.5 1269.5,796.4 1277.5,809.5 1285.5,803.4 1293.5,804.4 1301.5,801.0 1309.5,797.4 1317.5,808.4 1325.5,819.4 1333.5,810.4" fill="none" stroke="#1e90ff" stroke-width="1" shape-rendering="crispEdges"/></g><text x="9.4" y="754.2" font-size="9.2" fill="#000" textLength="67" lengthAdjust="spacingAndGlyphs">RSI(14) 47.4601</text><rect x="1691" y="743" width="2" height="1" fill="#000"/><rect x="1691" y="869" width="2" height="1" fill="#000"/><text x="1694.6" y="752" font-size="9.2" fill="#000" textLength="14" lengthAdjust="spacingAndGlyphs">100</text><text x="1694.6" y="785" font-size="9.2" fill="#000" textLength="9.5" lengthAdjust="spacingAndGlyphs">70</text><text x="1694.6" y="835" font-size="9.2" fill="#000" textLength="9.5" lengthAdjust="spacingAndGlyphs">30</text><text x="1694.6" y="867" font-size="9.2" fill="#000" textLength="5" lengthAdjust="spacingAndGlyphs">0</text><rect x="5" y="871" width="1" height="3" fill="#000"/><text x="4.2" y="883" font-size="9.2" fill="#000" textLength="50.5" lengthAdjust="spacingAndGlyphs">10 Apr 2020</text><rect x="69" y="871" width="1" height="3" fill="#000"/><text x="68.2" y="883" font-size="9.2" fill="#000" textLength="53.1" lengthAdjust="spacingAndGlyphs">16 Apr 05:00</text><rect x="133" y="871" width="1" height="3" fill="#000"/><text x="132.2" y="883" font-size="9.2" fill="#000" textLength="53.1" lengthAdjust="spacingAndGlyphs">22 Apr 05:00</text><rect x="197" y="871" width="1" height="3" fill="#000"/><text x="196.2" y="883" font-size="9.2" fill="#000" textLength="53.1" lengthAdjust="spacingAndGlyphs">28 Apr 05:00</text><rect x="261" y="871" width="1" height="3" fill="#000"/><text x="260.2" y="883" font-size="9.2" fill="#000" textLength="52.1" lengthAdjust="spacingAndGlyphs">7 May 05:00</text><rect x="325" y="871" width="1" height="3" fill="#000"/><text x="324.2" y="883" font-size="9.2" fill="#000" textLength="57.1" lengthAdjust="spacingAndGlyphs">13 May 05:00</text><rect x="389" y="871" width="1" height="3" fill="#000"/><text x="388.2" y="883" font-size="9.2" fill="#000" textLength="57.1" lengthAdjust="spacingAndGlyphs">19 May 05:00</text><rect x="453" y="871" width="1" height="3" fill="#000"/><text x="452.2" y="883" font-size="9.2" fill="#000" textLength="57.1" lengthAdjust="spacingAndGlyphs">25 May 05:00</text><rect x="517" y="871" width="1" height="3" fill="#000"/><text x="516.2" y="883" font-size="9.2" fill="#000" textLength="57.1" lengthAdjust="spacingAndGlyphs">29 May 05:00</text><rect x="581" y="871" width="1" height="3" fill="#000"/><text x="580.2" y="883" font-size="9.2" fill="#000" textLength="47.6" lengthAdjust="spacingAndGlyphs">4 Jun 05:00</text><rect x="645" y="871" width="1" height="3" fill="#000"/><text x="644.2" y="883" font-size="9.2" fill="#000" textLength="52.6" lengthAdjust="spacingAndGlyphs">10 Jun 05:00</text><rect x="709" y="871" width="1" height="3" fill="#000"/><text x="708.2" y="883" font-size="9.2" fill="#000" textLength="52.6" lengthAdjust="spacingAndGlyphs">16 Jun 05:00</text><rect x="773" y="871" width="1" height="3" fill="#000"/><text x="772.2" y="883" font-size="9.2" fill="#000" textLength="52.6" lengthAdjust="spacingAndGlyphs">22 Jun 05:00</text><rect x="837" y="871" width="1" height="3" fill="#000"/><text x="836.2" y="883" font-size="9.2" fill="#000" textLength="52.6" lengthAdjust="spacingAndGlyphs">30 Jun 05:00</text><rect x="901" y="871" width="1" height="3" fill="#000"/><text x="900.2" y="883" font-size="9.2" fill="#000" textLength="44.6" lengthAdjust="spacingAndGlyphs">6 Jul 05:00</text><rect x="965" y="871" width="1" height="3" fill="#000"/><text x="964.2" y="883" font-size="9.2" fill="#000" textLength="49.6" lengthAdjust="spacingAndGlyphs">10 Jul 05:00</text><rect x="1029" y="871" width="1" height="3" fill="#000"/><text x="1028.2" y="883" font-size="9.2" fill="#000" textLength="49.6" lengthAdjust="spacingAndGlyphs">16 Jul 05:00</text><rect x="1093" y="871" width="1" height="3" fill="#000"/><text x="1092.2" y="883" font-size="9.2" fill="#000" textLength="49.6" lengthAdjust="spacingAndGlyphs">22 Jul 05:00</text><rect x="1157" y="871" width="1" height="3" fill="#000"/><text x="1156.2" y="883" font-size="9.2" fill="#000" textLength="49.6" lengthAdjust="spacingAndGlyphs">28 Jul 05:00</text><rect x="1221" y="871" width="1" height="3" fill="#000"/><text x="1220.2" y="883" font-size="9.2" fill="#000" textLength="49.6" lengthAdjust="spacingAndGlyphs">3 Aug 05:00</text><rect x="1285" y="871" width="1" height="3" fill="#000"/><text x="1284.2" y="883" font-size="9.2" fill="#000" textLength="49.6" lengthAdjust="spacingAndGlyphs">7 Aug 05:00</text><text x="394" y="154" font-size="36" fill="#ec1c24" font-family="&quot;Liberation Sans&quot;, &quot;Noto Sans CJK SC&quot;, sans-serif">多空转折点<tspan x="573.5" y="154" font-size="38.5" font-family="&quot;Liberation Sans&quot;, sans-serif">4625</tspan></text>
</svg></body></html>
